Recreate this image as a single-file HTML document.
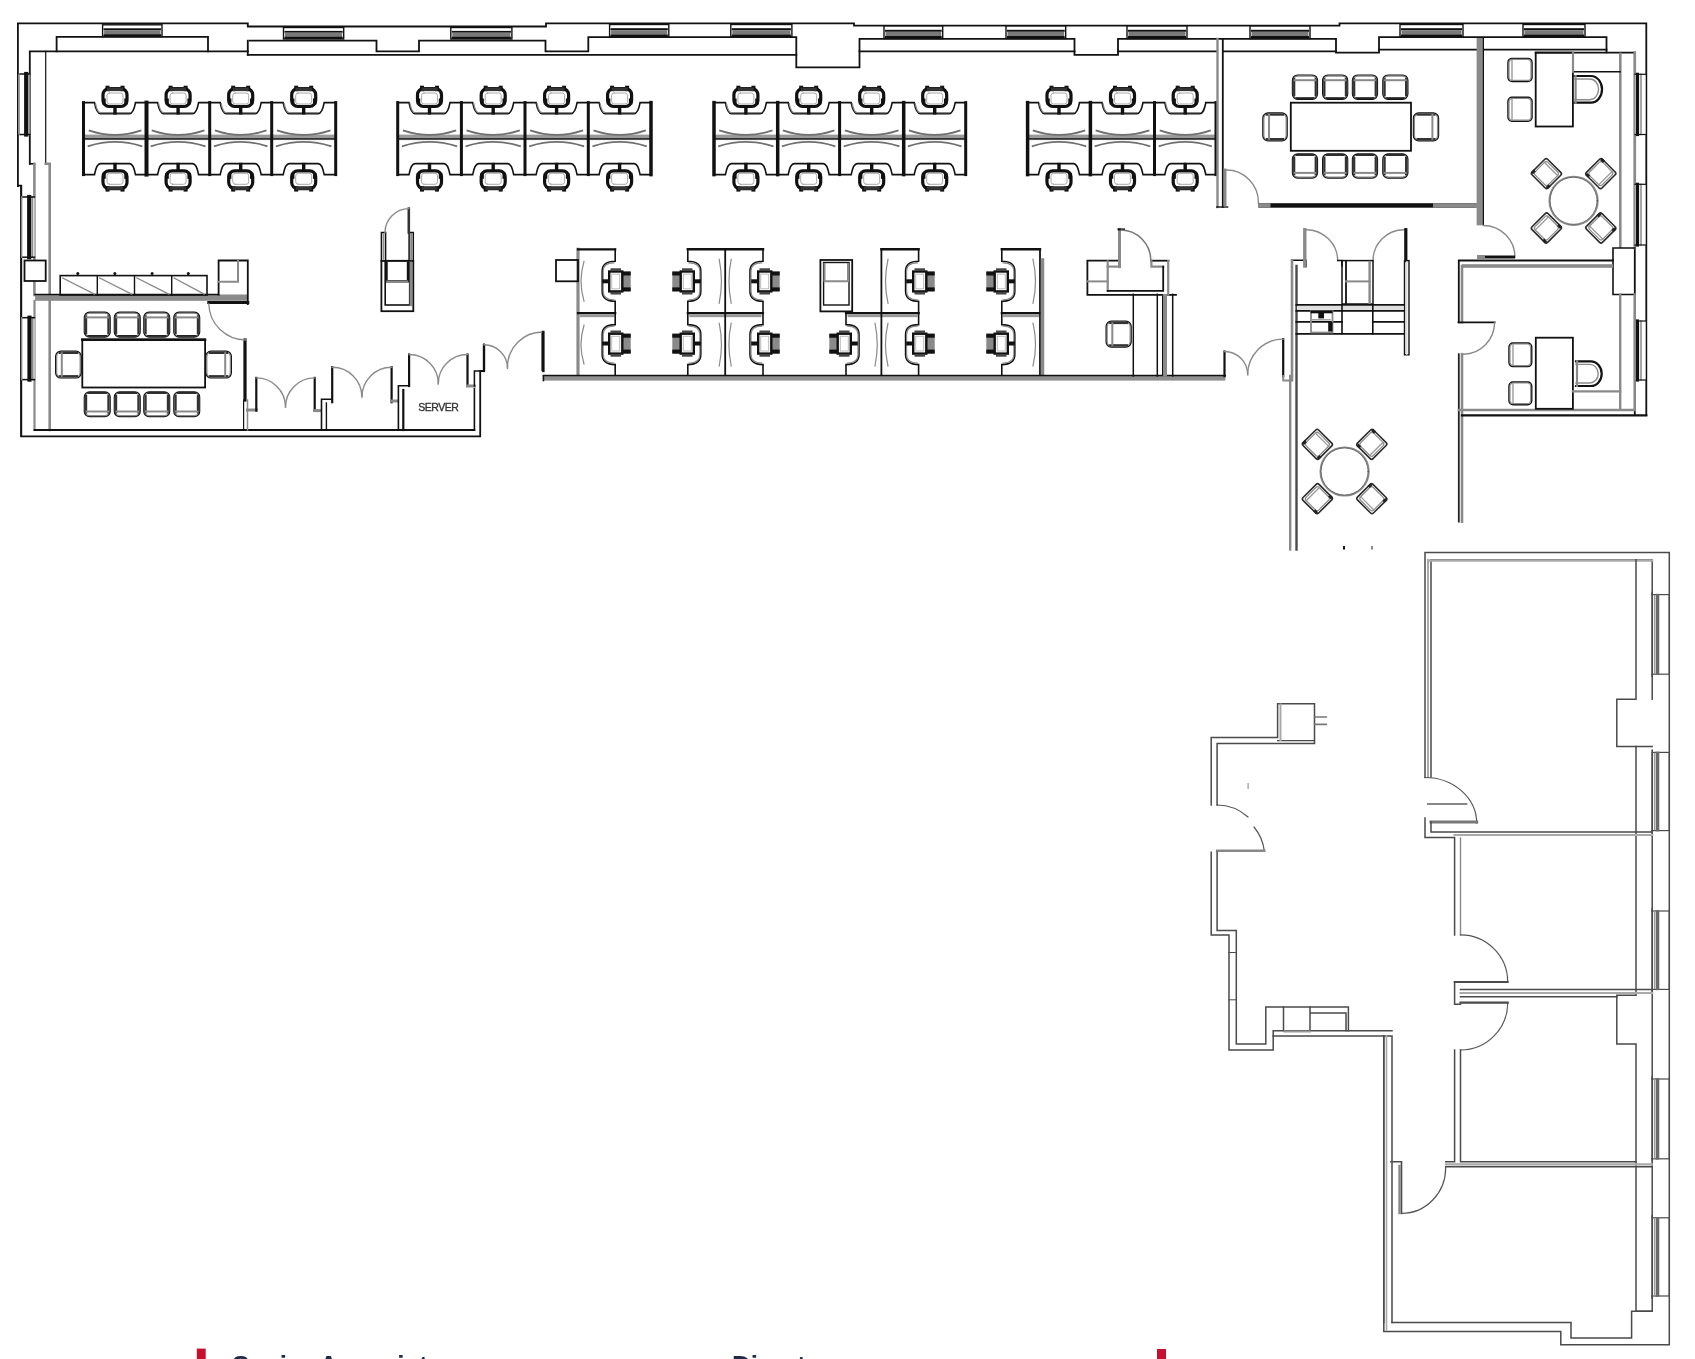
<!DOCTYPE html>
<html><head><meta charset="utf-8"><style>
html,body{margin:0;padding:0;background:#fff;width:1695px;height:1359px;overflow:hidden;}
svg{display:block;filter:blur(0.35px);}
.t{font-family:"Liberation Sans",sans-serif;}
</style></head><body>
<svg width="1695" height="1359" viewBox="0 0 1695 1359" stroke-linecap="square">
<path d="M17.9,186 V23.4 H247.8 V26.5 H546 V23.4 H854 V25.7 H1339.5 V23.4 H1646.3 V415" stroke="#111" stroke-width="1.8" fill="none" />
<path d="M17.9,185.7 H21.2 V436.3 H480.2 V371 H484" stroke="#111" stroke-width="1.8" fill="none" />
<rect x="102.6" y="24.8" width="59.4" height="11.7" fill="#ffffff"/>
<rect x="102.6" y="24.8" width="59.4" height="11.7" stroke="#111" stroke-width="1.4" fill="none" rx="0"/>
<rect x="103.6" y="28.3" width="57.4" height="1.9" fill="#111"/>
<rect x="104.1" y="30.2" width="56.4" height="4.2" fill="#7a7a7a"/>
<rect x="103.6" y="34.2" width="57.4" height="2.3" fill="#111"/>
<rect x="283.5" y="27.5" width="60.2" height="11.5" fill="#ffffff"/>
<rect x="283.5" y="27.5" width="60.2" height="11.5" stroke="#111" stroke-width="1.4" fill="none" rx="0"/>
<rect x="284.5" y="30.9" width="58.2" height="1.8" fill="#111"/>
<rect x="285.0" y="32.8" width="57.2" height="4.1" fill="#7a7a7a"/>
<rect x="284.5" y="36.7" width="58.2" height="2.3" fill="#111"/>
<rect x="450.8" y="27.5" width="61.1" height="11.5" fill="#ffffff"/>
<rect x="450.8" y="27.5" width="61.1" height="11.5" stroke="#111" stroke-width="1.4" fill="none" rx="0"/>
<rect x="451.8" y="30.9" width="59.1" height="1.8" fill="#111"/>
<rect x="452.3" y="32.8" width="58.1" height="4.1" fill="#7a7a7a"/>
<rect x="451.8" y="36.7" width="59.1" height="2.3" fill="#111"/>
<rect x="609.6" y="24.5" width="59.2" height="12.5" fill="#ffffff"/>
<rect x="609.6" y="24.5" width="59.2" height="12.5" stroke="#111" stroke-width="1.4" fill="none" rx="0"/>
<rect x="610.6" y="28.2" width="57.2" height="2.0" fill="#111"/>
<rect x="611.1" y="30.2" width="56.2" height="4.5" fill="#7a7a7a"/>
<rect x="610.6" y="34.5" width="57.2" height="2.5" fill="#111"/>
<rect x="730.8" y="24.5" width="61.1" height="12.5" fill="#ffffff"/>
<rect x="730.8" y="24.5" width="61.1" height="12.5" stroke="#111" stroke-width="1.4" fill="none" rx="0"/>
<rect x="731.8" y="28.2" width="59.1" height="2.0" fill="#111"/>
<rect x="732.3" y="30.2" width="58.1" height="4.5" fill="#7a7a7a"/>
<rect x="731.8" y="34.5" width="59.1" height="2.5" fill="#111"/>
<rect x="884.0" y="26.0" width="58.7" height="12.5" fill="#ffffff"/>
<rect x="884.0" y="26.0" width="58.7" height="12.5" stroke="#111" stroke-width="1.4" fill="none" rx="0"/>
<rect x="885.0" y="29.8" width="56.7" height="2.0" fill="#111"/>
<rect x="885.5" y="31.8" width="55.7" height="4.5" fill="#7a7a7a"/>
<rect x="885.0" y="36.0" width="56.7" height="2.5" fill="#111"/>
<rect x="1006.0" y="26.0" width="59.7" height="12.5" fill="#ffffff"/>
<rect x="1006.0" y="26.0" width="59.7" height="12.5" stroke="#111" stroke-width="1.4" fill="none" rx="0"/>
<rect x="1007.0" y="29.8" width="57.7" height="2.0" fill="#111"/>
<rect x="1007.5" y="31.8" width="56.7" height="4.5" fill="#7a7a7a"/>
<rect x="1007.0" y="36.0" width="57.7" height="2.5" fill="#111"/>
<rect x="1127.0" y="26.0" width="60.0" height="12.5" fill="#ffffff"/>
<rect x="1127.0" y="26.0" width="60.0" height="12.5" stroke="#111" stroke-width="1.4" fill="none" rx="0"/>
<rect x="1128.0" y="29.8" width="58.0" height="2.0" fill="#111"/>
<rect x="1128.5" y="31.8" width="57.0" height="4.5" fill="#7a7a7a"/>
<rect x="1128.0" y="36.0" width="58.0" height="2.5" fill="#111"/>
<rect x="1250.0" y="26.0" width="60.0" height="12.5" fill="#ffffff"/>
<rect x="1250.0" y="26.0" width="60.0" height="12.5" stroke="#111" stroke-width="1.4" fill="none" rx="0"/>
<rect x="1251.0" y="29.8" width="58.0" height="2.0" fill="#111"/>
<rect x="1251.5" y="31.8" width="57.0" height="4.5" fill="#7a7a7a"/>
<rect x="1251.0" y="36.0" width="58.0" height="2.5" fill="#111"/>
<rect x="1400.0" y="24.5" width="63.0" height="12.5" fill="#ffffff"/>
<rect x="1400.0" y="24.5" width="63.0" height="12.5" stroke="#111" stroke-width="1.4" fill="none" rx="0"/>
<rect x="1401.0" y="28.2" width="61.0" height="2.0" fill="#111"/>
<rect x="1401.5" y="30.2" width="60.0" height="4.5" fill="#7a7a7a"/>
<rect x="1401.0" y="34.5" width="61.0" height="2.5" fill="#111"/>
<rect x="1523.0" y="24.5" width="62.0" height="12.5" fill="#ffffff"/>
<rect x="1523.0" y="24.5" width="62.0" height="12.5" stroke="#111" stroke-width="1.4" fill="none" rx="0"/>
<rect x="1524.0" y="28.2" width="60.0" height="2.0" fill="#111"/>
<rect x="1524.5" y="30.2" width="59.0" height="4.5" fill="#7a7a7a"/>
<rect x="1524.0" y="34.5" width="60.0" height="2.5" fill="#111"/>
<path d="M56.6,51.3 V36.8 H208 V51.3" stroke="#111" stroke-width="1.8" fill="none" />
<path d="M247.8,40.7 V54.9" stroke="#111" stroke-width="1.8" fill="none" />
<path d="M249.6,40.7 H376.5 V51.3 H419 V40.7 H545.5 V51.3 H588.3 V37.2 H796.3 V67.3 H859.5 V38.9 H1074.5 V54.9 H1118 V38.9 H1336 V52.6 H1379 V37.2 H1606.5 V52.4" stroke="#111" stroke-width="1.8" fill="none" />
<path d="M29.8,163.8 V51.3 H247.8" stroke="#111" stroke-width="1.8" fill="none" />
<path d="M45.7,163.8 V51.3" stroke="#111" stroke-width="1.2" fill="none" />
<path d="M247.8,54.9 H796.3" stroke="#111" stroke-width="1.8" fill="none" />
<path d="M859.5,51.3 H1074.5" stroke="#111" stroke-width="1.8" fill="none" />
<path d="M1118,51.3 H1217" stroke="#111" stroke-width="1.8" fill="none" />
<path d="M1223,51.3 H1336" stroke="#111" stroke-width="1.8" fill="none" />
<path d="M1379,49.6 H1476.4" stroke="#111" stroke-width="1.8" fill="none" />
<path d="M1483.5,49.6 H1606.5" stroke="#111" stroke-width="1.8" fill="none" />
<path d="M1535.7,52.6 H1634.8 V415" stroke="#111" stroke-width="1.8" fill="none" />
<path d="M29.8,163.8 H34.4" stroke="#111" stroke-width="1.6" fill="none" />
<line x1="34.4" y1="163.8" x2="34.4" y2="295.0" stroke="#8a8a8a" stroke-width="2.6"/>
<path d="M45.7,163.8 H49.7 V430" stroke="#8a8a8a" stroke-width="2.6" fill="none" />
<line x1="34.5" y1="301.0" x2="34.5" y2="430.0" stroke="#8a8a8a" stroke-width="2.2"/>
<line x1="21.2" y1="186.0" x2="21.2" y2="436.0" stroke="#111" stroke-width="1.8"/>
<rect x="18.6" y="74.0" width="11.2" height="60.5" fill="#fff"/>
<line x1="26.2" y1="74.0" x2="26.2" y2="134.5" stroke="#111" stroke-width="4.2"/>
<line x1="29.4" y1="74.0" x2="29.4" y2="134.5" stroke="#8a8a8a" stroke-width="1.8"/>
<line x1="18.6" y1="74.0" x2="29.8" y2="74.0" stroke="#111" stroke-width="1.5"/>
<line x1="18.6" y1="134.5" x2="29.8" y2="134.5" stroke="#111" stroke-width="1.5"/>
<line x1="19.1" y1="74.0" x2="19.1" y2="134.5" stroke="#8a8a8a" stroke-width="1.4"/>
<rect x="21.2" y="197.0" width="13.2" height="60.2" fill="#fff"/>
<line x1="29.2" y1="197.0" x2="29.2" y2="257.2" stroke="#111" stroke-width="4.2"/>
<line x1="32.4" y1="197.0" x2="32.4" y2="257.2" stroke="#8a8a8a" stroke-width="1.8"/>
<line x1="21.2" y1="197.0" x2="34.4" y2="197.0" stroke="#111" stroke-width="1.5"/>
<line x1="21.2" y1="257.2" x2="34.4" y2="257.2" stroke="#111" stroke-width="1.5"/>
<line x1="21.7" y1="197.0" x2="21.7" y2="257.2" stroke="#8a8a8a" stroke-width="1.4"/>
<rect x="21.2" y="317.7" width="13.3" height="61.9" fill="#fff"/>
<line x1="29.5" y1="317.7" x2="29.5" y2="379.6" stroke="#111" stroke-width="4.2"/>
<line x1="32.7" y1="317.7" x2="32.7" y2="379.6" stroke="#8a8a8a" stroke-width="1.8"/>
<line x1="21.2" y1="317.7" x2="34.5" y2="317.7" stroke="#111" stroke-width="1.5"/>
<line x1="21.2" y1="379.6" x2="34.5" y2="379.6" stroke="#111" stroke-width="1.5"/>
<line x1="21.7" y1="317.7" x2="21.7" y2="379.6" stroke="#8a8a8a" stroke-width="1.4"/>
<rect x="24.5" y="260.5" width="21.2" height="20.5" stroke="#111" stroke-width="1.8" fill="#fff" rx="0"/>
<rect x="35.1" y="294.5" width="212.7" height="6.3" fill="#8a8a8a"/>
<line x1="35.1" y1="294.5" x2="218.6" y2="294.5" stroke="#111" stroke-width="1.6"/>
<line x1="208.8" y1="302.5" x2="247.8" y2="302.5" stroke="#111" stroke-width="3"/>
<path d="M218.6,294.5 V260.5 H247.8 V304" stroke="#111" stroke-width="1.8" fill="none" />
<path d="M218.6,281.8 H238 V260.5" stroke="#8a8a8a" stroke-width="2" fill="none" />
<line x1="34.5" y1="430.0" x2="474.4" y2="430.0" stroke="#111" stroke-width="1.8"/>
<line x1="245.0" y1="340.0" x2="245.0" y2="400.0" stroke="#111" stroke-width="3.2"/>
<line x1="247.5" y1="400.0" x2="247.5" y2="430.0" stroke="#8a8a8a" stroke-width="1.5"/>
<line x1="243.6" y1="400.0" x2="243.6" y2="430.0" stroke="#111" stroke-width="1.2"/>
<path d="M83.5,102.6 H94.5 C96.0,110.6 97.5,113.6 100.5,113.6 H129.5 C132.5,113.6 134.0,110.6 135.5,102.6 H146.5" stroke="#111" stroke-width="1.6" fill="none" />
<path d="M95.5,103.6 C97.0,110.6 98.5,112.6 100.5,112.6 H129.5" stroke="#8a8a8a" stroke-width="1.2" fill="none" />
<path d="M83.5,174.6 H94.5 C96.0,166.6 97.5,163.6 100.5,163.6 H129.5 C132.5,163.6 134.0,166.6 135.5,174.6 H146.5" stroke="#111" stroke-width="1.6" fill="none" />
<rect x="83.5" y="134.6" width="63.0" height="5.5" fill="#9a9a9a"/>
<line x1="83.5" y1="138.8" x2="146.5" y2="138.8" stroke="#111" stroke-width="1.2"/>
<path d="M89.5,130.6 Q115.0,139.1 140.5,130.6" stroke="#6f6f6f" stroke-width="1.7" fill="none" />
<path d="M88.5,146.1 Q115.0,137.6 141.5,146.1" stroke="#6f6f6f" stroke-width="1.7" fill="none" />
<g transform="translate(115.0,97.5) scale(1,1)">
<rect x="-12" y="-8.8" width="24" height="17.8" rx="6" fill="#fff" stroke="#111" stroke-width="3.2"/>
<rect x="-8" y="-4.5" width="16" height="11" rx="2.5" fill="none" stroke="#aaa" stroke-width="1"/>
<rect x="-9.5" y="-11.8" width="4" height="5.5" fill="#111"/>
<rect x="5.5" y="-11.8" width="4" height="5.5" fill="#111"/>
<rect x="-8" y="-10" width="16" height="3.6" fill="#333"/>
<rect x="-12.8" y="1" width="3.5" height="6" fill="#111"/>
<rect x="9.3" y="1" width="3.5" height="6" fill="#111"/>
<rect x="-1.7" y="9" width="3.4" height="8" fill="#111"/>
</g>
<g transform="translate(115.0,179.8) scale(1,-1)">
<rect x="-12" y="-8.8" width="24" height="17.8" rx="6" fill="#fff" stroke="#111" stroke-width="3.2"/>
<rect x="-8" y="-4.5" width="16" height="11" rx="2.5" fill="none" stroke="#aaa" stroke-width="1"/>
<rect x="-9.5" y="-11.8" width="4" height="5.5" fill="#111"/>
<rect x="5.5" y="-11.8" width="4" height="5.5" fill="#111"/>
<rect x="-8" y="-10" width="16" height="3.6" fill="#333"/>
<rect x="-12.8" y="1" width="3.5" height="6" fill="#111"/>
<rect x="9.3" y="1" width="3.5" height="6" fill="#111"/>
<rect x="-1.7" y="9" width="3.4" height="8" fill="#111"/>
</g>
<path d="M146.5,102.6 H157.6 C159.1,110.6 160.6,113.6 163.6,113.6 H192.6 C195.6,113.6 197.1,110.6 198.6,102.6 H209.7" stroke="#111" stroke-width="1.6" fill="none" />
<path d="M158.6,103.6 C160.1,110.6 161.6,112.6 163.6,112.6 H192.6" stroke="#8a8a8a" stroke-width="1.2" fill="none" />
<path d="M146.5,174.6 H157.6 C159.1,166.6 160.6,163.6 163.6,163.6 H192.6 C195.6,163.6 197.1,166.6 198.6,174.6 H209.7" stroke="#111" stroke-width="1.6" fill="none" />
<rect x="146.5" y="134.6" width="63.2" height="5.5" fill="#9a9a9a"/>
<line x1="146.5" y1="138.8" x2="209.7" y2="138.8" stroke="#111" stroke-width="1.2"/>
<path d="M152.5,130.6 Q178.1,139.1 203.7,130.6" stroke="#6f6f6f" stroke-width="1.7" fill="none" />
<path d="M151.5,146.1 Q178.1,137.6 204.7,146.1" stroke="#6f6f6f" stroke-width="1.7" fill="none" />
<g transform="translate(178.1,97.5) scale(1,1)">
<rect x="-12" y="-8.8" width="24" height="17.8" rx="6" fill="#fff" stroke="#111" stroke-width="3.2"/>
<rect x="-8" y="-4.5" width="16" height="11" rx="2.5" fill="none" stroke="#aaa" stroke-width="1"/>
<rect x="-9.5" y="-11.8" width="4" height="5.5" fill="#111"/>
<rect x="5.5" y="-11.8" width="4" height="5.5" fill="#111"/>
<rect x="-8" y="-10" width="16" height="3.6" fill="#333"/>
<rect x="-12.8" y="1" width="3.5" height="6" fill="#111"/>
<rect x="9.3" y="1" width="3.5" height="6" fill="#111"/>
<rect x="-1.7" y="9" width="3.4" height="8" fill="#111"/>
</g>
<g transform="translate(178.1,179.8) scale(1,-1)">
<rect x="-12" y="-8.8" width="24" height="17.8" rx="6" fill="#fff" stroke="#111" stroke-width="3.2"/>
<rect x="-8" y="-4.5" width="16" height="11" rx="2.5" fill="none" stroke="#aaa" stroke-width="1"/>
<rect x="-9.5" y="-11.8" width="4" height="5.5" fill="#111"/>
<rect x="5.5" y="-11.8" width="4" height="5.5" fill="#111"/>
<rect x="-8" y="-10" width="16" height="3.6" fill="#333"/>
<rect x="-12.8" y="1" width="3.5" height="6" fill="#111"/>
<rect x="9.3" y="1" width="3.5" height="6" fill="#111"/>
<rect x="-1.7" y="9" width="3.4" height="8" fill="#111"/>
</g>
<path d="M209.7,102.6 H220.2 C221.7,110.6 223.2,113.6 226.2,113.6 H255.2 C258.2,113.6 259.7,110.6 261.2,102.6 H271.7" stroke="#111" stroke-width="1.6" fill="none" />
<path d="M221.2,103.6 C222.7,110.6 224.2,112.6 226.2,112.6 H255.2" stroke="#8a8a8a" stroke-width="1.2" fill="none" />
<path d="M209.7,174.6 H220.2 C221.7,166.6 223.2,163.6 226.2,163.6 H255.2 C258.2,163.6 259.7,166.6 261.2,174.6 H271.7" stroke="#111" stroke-width="1.6" fill="none" />
<rect x="209.7" y="134.6" width="62.0" height="5.5" fill="#9a9a9a"/>
<line x1="209.7" y1="138.8" x2="271.7" y2="138.8" stroke="#111" stroke-width="1.2"/>
<path d="M215.7,130.6 Q240.7,139.1 265.7,130.6" stroke="#6f6f6f" stroke-width="1.7" fill="none" />
<path d="M214.7,146.1 Q240.7,137.6 266.7,146.1" stroke="#6f6f6f" stroke-width="1.7" fill="none" />
<g transform="translate(240.7,97.5) scale(1,1)">
<rect x="-12" y="-8.8" width="24" height="17.8" rx="6" fill="#fff" stroke="#111" stroke-width="3.2"/>
<rect x="-8" y="-4.5" width="16" height="11" rx="2.5" fill="none" stroke="#aaa" stroke-width="1"/>
<rect x="-9.5" y="-11.8" width="4" height="5.5" fill="#111"/>
<rect x="5.5" y="-11.8" width="4" height="5.5" fill="#111"/>
<rect x="-8" y="-10" width="16" height="3.6" fill="#333"/>
<rect x="-12.8" y="1" width="3.5" height="6" fill="#111"/>
<rect x="9.3" y="1" width="3.5" height="6" fill="#111"/>
<rect x="-1.7" y="9" width="3.4" height="8" fill="#111"/>
</g>
<g transform="translate(240.7,179.8) scale(1,-1)">
<rect x="-12" y="-8.8" width="24" height="17.8" rx="6" fill="#fff" stroke="#111" stroke-width="3.2"/>
<rect x="-8" y="-4.5" width="16" height="11" rx="2.5" fill="none" stroke="#aaa" stroke-width="1"/>
<rect x="-9.5" y="-11.8" width="4" height="5.5" fill="#111"/>
<rect x="5.5" y="-11.8" width="4" height="5.5" fill="#111"/>
<rect x="-8" y="-10" width="16" height="3.6" fill="#333"/>
<rect x="-12.8" y="1" width="3.5" height="6" fill="#111"/>
<rect x="9.3" y="1" width="3.5" height="6" fill="#111"/>
<rect x="-1.7" y="9" width="3.4" height="8" fill="#111"/>
</g>
<path d="M271.7,102.6 H283.2 C284.7,110.6 286.2,113.6 289.2,113.6 H318.2 C321.2,113.6 322.7,110.6 324.2,102.6 H335.7" stroke="#111" stroke-width="1.6" fill="none" />
<path d="M284.2,103.6 C285.7,110.6 287.2,112.6 289.2,112.6 H318.2" stroke="#8a8a8a" stroke-width="1.2" fill="none" />
<path d="M271.7,174.6 H283.2 C284.7,166.6 286.2,163.6 289.2,163.6 H318.2 C321.2,163.6 322.7,166.6 324.2,174.6 H335.7" stroke="#111" stroke-width="1.6" fill="none" />
<rect x="271.7" y="134.6" width="64.0" height="5.5" fill="#9a9a9a"/>
<line x1="271.7" y1="138.8" x2="335.7" y2="138.8" stroke="#111" stroke-width="1.2"/>
<path d="M277.7,130.6 Q303.7,139.1 329.7,130.6" stroke="#6f6f6f" stroke-width="1.7" fill="none" />
<path d="M276.7,146.1 Q303.7,137.6 330.7,146.1" stroke="#6f6f6f" stroke-width="1.7" fill="none" />
<g transform="translate(303.7,97.5) scale(1,1)">
<rect x="-12" y="-8.8" width="24" height="17.8" rx="6" fill="#fff" stroke="#111" stroke-width="3.2"/>
<rect x="-8" y="-4.5" width="16" height="11" rx="2.5" fill="none" stroke="#aaa" stroke-width="1"/>
<rect x="-9.5" y="-11.8" width="4" height="5.5" fill="#111"/>
<rect x="5.5" y="-11.8" width="4" height="5.5" fill="#111"/>
<rect x="-8" y="-10" width="16" height="3.6" fill="#333"/>
<rect x="-12.8" y="1" width="3.5" height="6" fill="#111"/>
<rect x="9.3" y="1" width="3.5" height="6" fill="#111"/>
<rect x="-1.7" y="9" width="3.4" height="8" fill="#111"/>
</g>
<g transform="translate(303.7,179.8) scale(1,-1)">
<rect x="-12" y="-8.8" width="24" height="17.8" rx="6" fill="#fff" stroke="#111" stroke-width="3.2"/>
<rect x="-8" y="-4.5" width="16" height="11" rx="2.5" fill="none" stroke="#aaa" stroke-width="1"/>
<rect x="-9.5" y="-11.8" width="4" height="5.5" fill="#111"/>
<rect x="5.5" y="-11.8" width="4" height="5.5" fill="#111"/>
<rect x="-8" y="-10" width="16" height="3.6" fill="#333"/>
<rect x="-12.8" y="1" width="3.5" height="6" fill="#111"/>
<rect x="9.3" y="1" width="3.5" height="6" fill="#111"/>
<rect x="-1.7" y="9" width="3.4" height="8" fill="#111"/>
</g>
<line x1="83.5" y1="102.6" x2="83.5" y2="174.6" stroke="#111" stroke-width="3"/>
<line x1="146.5" y1="102.6" x2="146.5" y2="174.6" stroke="#111" stroke-width="4"/>
<line x1="209.7" y1="102.6" x2="209.7" y2="174.6" stroke="#111" stroke-width="3"/>
<line x1="271.7" y1="102.6" x2="271.7" y2="174.6" stroke="#111" stroke-width="3"/>
<line x1="335.7" y1="102.6" x2="335.7" y2="174.6" stroke="#111" stroke-width="3"/>
<path d="M397.7,102.6 H409.0 C410.5,110.6 412.0,113.6 415.0,113.6 H444.0 C447.0,113.6 448.5,110.6 450.0,102.6 H461.4" stroke="#111" stroke-width="1.6" fill="none" />
<path d="M410.0,103.6 C411.5,110.6 413.0,112.6 415.0,112.6 H444.0" stroke="#8a8a8a" stroke-width="1.2" fill="none" />
<path d="M397.7,174.6 H409.0 C410.5,166.6 412.0,163.6 415.0,163.6 H444.0 C447.0,163.6 448.5,166.6 450.0,174.6 H461.4" stroke="#111" stroke-width="1.6" fill="none" />
<rect x="397.7" y="134.6" width="63.7" height="5.5" fill="#9a9a9a"/>
<line x1="397.7" y1="138.8" x2="461.4" y2="138.8" stroke="#111" stroke-width="1.2"/>
<path d="M403.7,130.6 Q429.5,139.1 455.4,130.6" stroke="#6f6f6f" stroke-width="1.7" fill="none" />
<path d="M402.7,146.1 Q429.5,137.6 456.4,146.1" stroke="#6f6f6f" stroke-width="1.7" fill="none" />
<g transform="translate(429.5,97.5) scale(1,1)">
<rect x="-12" y="-8.8" width="24" height="17.8" rx="6" fill="#fff" stroke="#111" stroke-width="3.2"/>
<rect x="-8" y="-4.5" width="16" height="11" rx="2.5" fill="none" stroke="#aaa" stroke-width="1"/>
<rect x="-9.5" y="-11.8" width="4" height="5.5" fill="#111"/>
<rect x="5.5" y="-11.8" width="4" height="5.5" fill="#111"/>
<rect x="-8" y="-10" width="16" height="3.6" fill="#333"/>
<rect x="-12.8" y="1" width="3.5" height="6" fill="#111"/>
<rect x="9.3" y="1" width="3.5" height="6" fill="#111"/>
<rect x="-1.7" y="9" width="3.4" height="8" fill="#111"/>
</g>
<g transform="translate(429.5,179.8) scale(1,-1)">
<rect x="-12" y="-8.8" width="24" height="17.8" rx="6" fill="#fff" stroke="#111" stroke-width="3.2"/>
<rect x="-8" y="-4.5" width="16" height="11" rx="2.5" fill="none" stroke="#aaa" stroke-width="1"/>
<rect x="-9.5" y="-11.8" width="4" height="5.5" fill="#111"/>
<rect x="5.5" y="-11.8" width="4" height="5.5" fill="#111"/>
<rect x="-8" y="-10" width="16" height="3.6" fill="#333"/>
<rect x="-12.8" y="1" width="3.5" height="6" fill="#111"/>
<rect x="9.3" y="1" width="3.5" height="6" fill="#111"/>
<rect x="-1.7" y="9" width="3.4" height="8" fill="#111"/>
</g>
<path d="M461.4,102.6 H472.7 C474.2,110.6 475.7,113.6 478.7,113.6 H507.7 C510.7,113.6 512.2,110.6 513.7,102.6 H525.0" stroke="#111" stroke-width="1.6" fill="none" />
<path d="M473.7,103.6 C475.2,110.6 476.7,112.6 478.7,112.6 H507.7" stroke="#8a8a8a" stroke-width="1.2" fill="none" />
<path d="M461.4,174.6 H472.7 C474.2,166.6 475.7,163.6 478.7,163.6 H507.7 C510.7,163.6 512.2,166.6 513.7,174.6 H525.0" stroke="#111" stroke-width="1.6" fill="none" />
<rect x="461.4" y="134.6" width="63.6" height="5.5" fill="#9a9a9a"/>
<line x1="461.4" y1="138.8" x2="525.0" y2="138.8" stroke="#111" stroke-width="1.2"/>
<path d="M467.4,130.6 Q493.2,139.1 519.0,130.6" stroke="#6f6f6f" stroke-width="1.7" fill="none" />
<path d="M466.4,146.1 Q493.2,137.6 520.0,146.1" stroke="#6f6f6f" stroke-width="1.7" fill="none" />
<g transform="translate(493.2,97.5) scale(1,1)">
<rect x="-12" y="-8.8" width="24" height="17.8" rx="6" fill="#fff" stroke="#111" stroke-width="3.2"/>
<rect x="-8" y="-4.5" width="16" height="11" rx="2.5" fill="none" stroke="#aaa" stroke-width="1"/>
<rect x="-9.5" y="-11.8" width="4" height="5.5" fill="#111"/>
<rect x="5.5" y="-11.8" width="4" height="5.5" fill="#111"/>
<rect x="-8" y="-10" width="16" height="3.6" fill="#333"/>
<rect x="-12.8" y="1" width="3.5" height="6" fill="#111"/>
<rect x="9.3" y="1" width="3.5" height="6" fill="#111"/>
<rect x="-1.7" y="9" width="3.4" height="8" fill="#111"/>
</g>
<g transform="translate(493.2,179.8) scale(1,-1)">
<rect x="-12" y="-8.8" width="24" height="17.8" rx="6" fill="#fff" stroke="#111" stroke-width="3.2"/>
<rect x="-8" y="-4.5" width="16" height="11" rx="2.5" fill="none" stroke="#aaa" stroke-width="1"/>
<rect x="-9.5" y="-11.8" width="4" height="5.5" fill="#111"/>
<rect x="5.5" y="-11.8" width="4" height="5.5" fill="#111"/>
<rect x="-8" y="-10" width="16" height="3.6" fill="#333"/>
<rect x="-12.8" y="1" width="3.5" height="6" fill="#111"/>
<rect x="9.3" y="1" width="3.5" height="6" fill="#111"/>
<rect x="-1.7" y="9" width="3.4" height="8" fill="#111"/>
</g>
<path d="M525.0,102.6 H536.1 C537.6,110.6 539.1,113.6 542.1,113.6 H571.1 C574.1,113.6 575.6,110.6 577.1,102.6 H588.3" stroke="#111" stroke-width="1.6" fill="none" />
<path d="M537.1,103.6 C538.6,110.6 540.1,112.6 542.1,112.6 H571.1" stroke="#8a8a8a" stroke-width="1.2" fill="none" />
<path d="M525.0,174.6 H536.1 C537.6,166.6 539.1,163.6 542.1,163.6 H571.1 C574.1,163.6 575.6,166.6 577.1,174.6 H588.3" stroke="#111" stroke-width="1.6" fill="none" />
<rect x="525.0" y="134.6" width="63.3" height="5.5" fill="#9a9a9a"/>
<line x1="525.0" y1="138.8" x2="588.3" y2="138.8" stroke="#111" stroke-width="1.2"/>
<path d="M531.0,130.6 Q556.6,139.1 582.3,130.6" stroke="#6f6f6f" stroke-width="1.7" fill="none" />
<path d="M530.0,146.1 Q556.6,137.6 583.3,146.1" stroke="#6f6f6f" stroke-width="1.7" fill="none" />
<g transform="translate(556.6,97.5) scale(1,1)">
<rect x="-12" y="-8.8" width="24" height="17.8" rx="6" fill="#fff" stroke="#111" stroke-width="3.2"/>
<rect x="-8" y="-4.5" width="16" height="11" rx="2.5" fill="none" stroke="#aaa" stroke-width="1"/>
<rect x="-9.5" y="-11.8" width="4" height="5.5" fill="#111"/>
<rect x="5.5" y="-11.8" width="4" height="5.5" fill="#111"/>
<rect x="-8" y="-10" width="16" height="3.6" fill="#333"/>
<rect x="-12.8" y="1" width="3.5" height="6" fill="#111"/>
<rect x="9.3" y="1" width="3.5" height="6" fill="#111"/>
<rect x="-1.7" y="9" width="3.4" height="8" fill="#111"/>
</g>
<g transform="translate(556.6,179.8) scale(1,-1)">
<rect x="-12" y="-8.8" width="24" height="17.8" rx="6" fill="#fff" stroke="#111" stroke-width="3.2"/>
<rect x="-8" y="-4.5" width="16" height="11" rx="2.5" fill="none" stroke="#aaa" stroke-width="1"/>
<rect x="-9.5" y="-11.8" width="4" height="5.5" fill="#111"/>
<rect x="5.5" y="-11.8" width="4" height="5.5" fill="#111"/>
<rect x="-8" y="-10" width="16" height="3.6" fill="#333"/>
<rect x="-12.8" y="1" width="3.5" height="6" fill="#111"/>
<rect x="9.3" y="1" width="3.5" height="6" fill="#111"/>
<rect x="-1.7" y="9" width="3.4" height="8" fill="#111"/>
</g>
<path d="M588.3,102.6 H599.1 C600.6,110.6 602.1,113.6 605.1,113.6 H634.1 C637.1,113.6 638.6,110.6 640.1,102.6 H651.0" stroke="#111" stroke-width="1.6" fill="none" />
<path d="M600.1,103.6 C601.6,110.6 603.1,112.6 605.1,112.6 H634.1" stroke="#8a8a8a" stroke-width="1.2" fill="none" />
<path d="M588.3,174.6 H599.1 C600.6,166.6 602.1,163.6 605.1,163.6 H634.1 C637.1,163.6 638.6,166.6 640.1,174.6 H651.0" stroke="#111" stroke-width="1.6" fill="none" />
<rect x="588.3" y="134.6" width="62.7" height="5.5" fill="#9a9a9a"/>
<line x1="588.3" y1="138.8" x2="651.0" y2="138.8" stroke="#111" stroke-width="1.2"/>
<path d="M594.3,130.6 Q619.6,139.1 645.0,130.6" stroke="#6f6f6f" stroke-width="1.7" fill="none" />
<path d="M593.3,146.1 Q619.6,137.6 646.0,146.1" stroke="#6f6f6f" stroke-width="1.7" fill="none" />
<g transform="translate(619.6,97.5) scale(1,1)">
<rect x="-12" y="-8.8" width="24" height="17.8" rx="6" fill="#fff" stroke="#111" stroke-width="3.2"/>
<rect x="-8" y="-4.5" width="16" height="11" rx="2.5" fill="none" stroke="#aaa" stroke-width="1"/>
<rect x="-9.5" y="-11.8" width="4" height="5.5" fill="#111"/>
<rect x="5.5" y="-11.8" width="4" height="5.5" fill="#111"/>
<rect x="-8" y="-10" width="16" height="3.6" fill="#333"/>
<rect x="-12.8" y="1" width="3.5" height="6" fill="#111"/>
<rect x="9.3" y="1" width="3.5" height="6" fill="#111"/>
<rect x="-1.7" y="9" width="3.4" height="8" fill="#111"/>
</g>
<g transform="translate(619.6,179.8) scale(1,-1)">
<rect x="-12" y="-8.8" width="24" height="17.8" rx="6" fill="#fff" stroke="#111" stroke-width="3.2"/>
<rect x="-8" y="-4.5" width="16" height="11" rx="2.5" fill="none" stroke="#aaa" stroke-width="1"/>
<rect x="-9.5" y="-11.8" width="4" height="5.5" fill="#111"/>
<rect x="5.5" y="-11.8" width="4" height="5.5" fill="#111"/>
<rect x="-8" y="-10" width="16" height="3.6" fill="#333"/>
<rect x="-12.8" y="1" width="3.5" height="6" fill="#111"/>
<rect x="9.3" y="1" width="3.5" height="6" fill="#111"/>
<rect x="-1.7" y="9" width="3.4" height="8" fill="#111"/>
</g>
<line x1="397.7" y1="102.6" x2="397.7" y2="174.6" stroke="#111" stroke-width="3"/>
<line x1="461.4" y1="102.6" x2="461.4" y2="174.6" stroke="#111" stroke-width="3"/>
<line x1="525.0" y1="102.6" x2="525.0" y2="174.6" stroke="#111" stroke-width="3"/>
<line x1="588.3" y1="102.6" x2="588.3" y2="174.6" stroke="#111" stroke-width="3"/>
<line x1="651.0" y1="102.6" x2="651.0" y2="174.6" stroke="#111" stroke-width="3.5"/>
<path d="M714.0,102.6 H725.4 C726.9,110.6 728.4,113.6 731.4,113.6 H760.4 C763.4,113.6 764.9,110.6 766.4,102.6 H777.7" stroke="#111" stroke-width="1.6" fill="none" />
<path d="M726.4,103.6 C727.9,110.6 729.4,112.6 731.4,112.6 H760.4" stroke="#8a8a8a" stroke-width="1.2" fill="none" />
<path d="M714.0,174.6 H725.4 C726.9,166.6 728.4,163.6 731.4,163.6 H760.4 C763.4,163.6 764.9,166.6 766.4,174.6 H777.7" stroke="#111" stroke-width="1.6" fill="none" />
<rect x="714.0" y="134.6" width="63.7" height="5.5" fill="#9a9a9a"/>
<line x1="714.0" y1="138.8" x2="777.7" y2="138.8" stroke="#111" stroke-width="1.2"/>
<path d="M720.0,130.6 Q745.9,139.1 771.7,130.6" stroke="#6f6f6f" stroke-width="1.7" fill="none" />
<path d="M719.0,146.1 Q745.9,137.6 772.7,146.1" stroke="#6f6f6f" stroke-width="1.7" fill="none" />
<g transform="translate(745.9,97.5) scale(1,1)">
<rect x="-12" y="-8.8" width="24" height="17.8" rx="6" fill="#fff" stroke="#111" stroke-width="3.2"/>
<rect x="-8" y="-4.5" width="16" height="11" rx="2.5" fill="none" stroke="#aaa" stroke-width="1"/>
<rect x="-9.5" y="-11.8" width="4" height="5.5" fill="#111"/>
<rect x="5.5" y="-11.8" width="4" height="5.5" fill="#111"/>
<rect x="-8" y="-10" width="16" height="3.6" fill="#333"/>
<rect x="-12.8" y="1" width="3.5" height="6" fill="#111"/>
<rect x="9.3" y="1" width="3.5" height="6" fill="#111"/>
<rect x="-1.7" y="9" width="3.4" height="8" fill="#111"/>
</g>
<g transform="translate(745.9,179.8) scale(1,-1)">
<rect x="-12" y="-8.8" width="24" height="17.8" rx="6" fill="#fff" stroke="#111" stroke-width="3.2"/>
<rect x="-8" y="-4.5" width="16" height="11" rx="2.5" fill="none" stroke="#aaa" stroke-width="1"/>
<rect x="-9.5" y="-11.8" width="4" height="5.5" fill="#111"/>
<rect x="5.5" y="-11.8" width="4" height="5.5" fill="#111"/>
<rect x="-8" y="-10" width="16" height="3.6" fill="#333"/>
<rect x="-12.8" y="1" width="3.5" height="6" fill="#111"/>
<rect x="9.3" y="1" width="3.5" height="6" fill="#111"/>
<rect x="-1.7" y="9" width="3.4" height="8" fill="#111"/>
</g>
<path d="M777.7,102.6 H788.2 C789.7,110.6 791.2,113.6 794.2,113.6 H823.2 C826.2,113.6 827.7,110.6 829.2,102.6 H839.6" stroke="#111" stroke-width="1.6" fill="none" />
<path d="M789.2,103.6 C790.7,110.6 792.2,112.6 794.2,112.6 H823.2" stroke="#8a8a8a" stroke-width="1.2" fill="none" />
<path d="M777.7,174.6 H788.2 C789.7,166.6 791.2,163.6 794.2,163.6 H823.2 C826.2,163.6 827.7,166.6 829.2,174.6 H839.6" stroke="#111" stroke-width="1.6" fill="none" />
<rect x="777.7" y="134.6" width="61.9" height="5.5" fill="#9a9a9a"/>
<line x1="777.7" y1="138.8" x2="839.6" y2="138.8" stroke="#111" stroke-width="1.2"/>
<path d="M783.7,130.6 Q808.7,139.1 833.6,130.6" stroke="#6f6f6f" stroke-width="1.7" fill="none" />
<path d="M782.7,146.1 Q808.7,137.6 834.6,146.1" stroke="#6f6f6f" stroke-width="1.7" fill="none" />
<g transform="translate(808.7,97.5) scale(1,1)">
<rect x="-12" y="-8.8" width="24" height="17.8" rx="6" fill="#fff" stroke="#111" stroke-width="3.2"/>
<rect x="-8" y="-4.5" width="16" height="11" rx="2.5" fill="none" stroke="#aaa" stroke-width="1"/>
<rect x="-9.5" y="-11.8" width="4" height="5.5" fill="#111"/>
<rect x="5.5" y="-11.8" width="4" height="5.5" fill="#111"/>
<rect x="-8" y="-10" width="16" height="3.6" fill="#333"/>
<rect x="-12.8" y="1" width="3.5" height="6" fill="#111"/>
<rect x="9.3" y="1" width="3.5" height="6" fill="#111"/>
<rect x="-1.7" y="9" width="3.4" height="8" fill="#111"/>
</g>
<g transform="translate(808.7,179.8) scale(1,-1)">
<rect x="-12" y="-8.8" width="24" height="17.8" rx="6" fill="#fff" stroke="#111" stroke-width="3.2"/>
<rect x="-8" y="-4.5" width="16" height="11" rx="2.5" fill="none" stroke="#aaa" stroke-width="1"/>
<rect x="-9.5" y="-11.8" width="4" height="5.5" fill="#111"/>
<rect x="5.5" y="-11.8" width="4" height="5.5" fill="#111"/>
<rect x="-8" y="-10" width="16" height="3.6" fill="#333"/>
<rect x="-12.8" y="1" width="3.5" height="6" fill="#111"/>
<rect x="9.3" y="1" width="3.5" height="6" fill="#111"/>
<rect x="-1.7" y="9" width="3.4" height="8" fill="#111"/>
</g>
<path d="M839.6,102.6 H851.2 C852.7,110.6 854.2,113.6 857.2,113.6 H886.2 C889.2,113.6 890.7,110.6 892.2,102.6 H903.7" stroke="#111" stroke-width="1.6" fill="none" />
<path d="M852.2,103.6 C853.7,110.6 855.2,112.6 857.2,112.6 H886.2" stroke="#8a8a8a" stroke-width="1.2" fill="none" />
<path d="M839.6,174.6 H851.2 C852.7,166.6 854.2,163.6 857.2,163.6 H886.2 C889.2,163.6 890.7,166.6 892.2,174.6 H903.7" stroke="#111" stroke-width="1.6" fill="none" />
<rect x="839.6" y="134.6" width="64.1" height="5.5" fill="#9a9a9a"/>
<line x1="839.6" y1="138.8" x2="903.7" y2="138.8" stroke="#111" stroke-width="1.2"/>
<path d="M845.6,130.6 Q871.7,139.1 897.7,130.6" stroke="#6f6f6f" stroke-width="1.7" fill="none" />
<path d="M844.6,146.1 Q871.7,137.6 898.7,146.1" stroke="#6f6f6f" stroke-width="1.7" fill="none" />
<g transform="translate(871.7,97.5) scale(1,1)">
<rect x="-12" y="-8.8" width="24" height="17.8" rx="6" fill="#fff" stroke="#111" stroke-width="3.2"/>
<rect x="-8" y="-4.5" width="16" height="11" rx="2.5" fill="none" stroke="#aaa" stroke-width="1"/>
<rect x="-9.5" y="-11.8" width="4" height="5.5" fill="#111"/>
<rect x="5.5" y="-11.8" width="4" height="5.5" fill="#111"/>
<rect x="-8" y="-10" width="16" height="3.6" fill="#333"/>
<rect x="-12.8" y="1" width="3.5" height="6" fill="#111"/>
<rect x="9.3" y="1" width="3.5" height="6" fill="#111"/>
<rect x="-1.7" y="9" width="3.4" height="8" fill="#111"/>
</g>
<g transform="translate(871.7,179.8) scale(1,-1)">
<rect x="-12" y="-8.8" width="24" height="17.8" rx="6" fill="#fff" stroke="#111" stroke-width="3.2"/>
<rect x="-8" y="-4.5" width="16" height="11" rx="2.5" fill="none" stroke="#aaa" stroke-width="1"/>
<rect x="-9.5" y="-11.8" width="4" height="5.5" fill="#111"/>
<rect x="5.5" y="-11.8" width="4" height="5.5" fill="#111"/>
<rect x="-8" y="-10" width="16" height="3.6" fill="#333"/>
<rect x="-12.8" y="1" width="3.5" height="6" fill="#111"/>
<rect x="9.3" y="1" width="3.5" height="6" fill="#111"/>
<rect x="-1.7" y="9" width="3.4" height="8" fill="#111"/>
</g>
<path d="M903.7,102.6 H914.2 C915.7,110.6 917.2,113.6 920.2,113.6 H949.2 C952.2,113.6 953.7,110.6 955.2,102.6 H965.7" stroke="#111" stroke-width="1.6" fill="none" />
<path d="M915.2,103.6 C916.7,110.6 918.2,112.6 920.2,112.6 H949.2" stroke="#8a8a8a" stroke-width="1.2" fill="none" />
<path d="M903.7,174.6 H914.2 C915.7,166.6 917.2,163.6 920.2,163.6 H949.2 C952.2,163.6 953.7,166.6 955.2,174.6 H965.7" stroke="#111" stroke-width="1.6" fill="none" />
<rect x="903.7" y="134.6" width="62.0" height="5.5" fill="#9a9a9a"/>
<line x1="903.7" y1="138.8" x2="965.7" y2="138.8" stroke="#111" stroke-width="1.2"/>
<path d="M909.7,130.6 Q934.7,139.1 959.7,130.6" stroke="#6f6f6f" stroke-width="1.7" fill="none" />
<path d="M908.7,146.1 Q934.7,137.6 960.7,146.1" stroke="#6f6f6f" stroke-width="1.7" fill="none" />
<g transform="translate(934.7,97.5) scale(1,1)">
<rect x="-12" y="-8.8" width="24" height="17.8" rx="6" fill="#fff" stroke="#111" stroke-width="3.2"/>
<rect x="-8" y="-4.5" width="16" height="11" rx="2.5" fill="none" stroke="#aaa" stroke-width="1"/>
<rect x="-9.5" y="-11.8" width="4" height="5.5" fill="#111"/>
<rect x="5.5" y="-11.8" width="4" height="5.5" fill="#111"/>
<rect x="-8" y="-10" width="16" height="3.6" fill="#333"/>
<rect x="-12.8" y="1" width="3.5" height="6" fill="#111"/>
<rect x="9.3" y="1" width="3.5" height="6" fill="#111"/>
<rect x="-1.7" y="9" width="3.4" height="8" fill="#111"/>
</g>
<g transform="translate(934.7,179.8) scale(1,-1)">
<rect x="-12" y="-8.8" width="24" height="17.8" rx="6" fill="#fff" stroke="#111" stroke-width="3.2"/>
<rect x="-8" y="-4.5" width="16" height="11" rx="2.5" fill="none" stroke="#aaa" stroke-width="1"/>
<rect x="-9.5" y="-11.8" width="4" height="5.5" fill="#111"/>
<rect x="5.5" y="-11.8" width="4" height="5.5" fill="#111"/>
<rect x="-8" y="-10" width="16" height="3.6" fill="#333"/>
<rect x="-12.8" y="1" width="3.5" height="6" fill="#111"/>
<rect x="9.3" y="1" width="3.5" height="6" fill="#111"/>
<rect x="-1.7" y="9" width="3.4" height="8" fill="#111"/>
</g>
<line x1="714.0" y1="102.6" x2="714.0" y2="174.6" stroke="#111" stroke-width="3.5"/>
<line x1="777.7" y1="102.6" x2="777.7" y2="174.6" stroke="#111" stroke-width="3.5"/>
<line x1="839.6" y1="102.6" x2="839.6" y2="174.6" stroke="#111" stroke-width="3"/>
<line x1="903.7" y1="102.6" x2="903.7" y2="174.6" stroke="#111" stroke-width="3.5"/>
<line x1="965.7" y1="102.6" x2="965.7" y2="174.6" stroke="#111" stroke-width="3"/>
<path d="M1027.6,102.6 H1038.5 C1040.0,110.6 1041.5,113.6 1044.5,113.6 H1073.5 C1076.5,113.6 1078.0,110.6 1079.5,102.6 H1090.4" stroke="#111" stroke-width="1.6" fill="none" />
<path d="M1039.5,103.6 C1041.0,110.6 1042.5,112.6 1044.5,112.6 H1073.5" stroke="#8a8a8a" stroke-width="1.2" fill="none" />
<path d="M1027.6,174.6 H1038.5 C1040.0,166.6 1041.5,163.6 1044.5,163.6 H1073.5 C1076.5,163.6 1078.0,166.6 1079.5,174.6 H1090.4" stroke="#111" stroke-width="1.6" fill="none" />
<rect x="1027.6" y="134.6" width="62.8" height="5.5" fill="#9a9a9a"/>
<line x1="1027.6" y1="138.8" x2="1090.4" y2="138.8" stroke="#111" stroke-width="1.2"/>
<path d="M1033.6,130.6 Q1059.0,139.1 1084.4,130.6" stroke="#6f6f6f" stroke-width="1.7" fill="none" />
<path d="M1032.6,146.1 Q1059.0,137.6 1085.4,146.1" stroke="#6f6f6f" stroke-width="1.7" fill="none" />
<g transform="translate(1059.0,97.5) scale(1,1)">
<rect x="-12" y="-8.8" width="24" height="17.8" rx="6" fill="#fff" stroke="#111" stroke-width="3.2"/>
<rect x="-8" y="-4.5" width="16" height="11" rx="2.5" fill="none" stroke="#aaa" stroke-width="1"/>
<rect x="-9.5" y="-11.8" width="4" height="5.5" fill="#111"/>
<rect x="5.5" y="-11.8" width="4" height="5.5" fill="#111"/>
<rect x="-8" y="-10" width="16" height="3.6" fill="#333"/>
<rect x="-12.8" y="1" width="3.5" height="6" fill="#111"/>
<rect x="9.3" y="1" width="3.5" height="6" fill="#111"/>
<rect x="-1.7" y="9" width="3.4" height="8" fill="#111"/>
</g>
<g transform="translate(1059.0,179.8) scale(1,-1)">
<rect x="-12" y="-8.8" width="24" height="17.8" rx="6" fill="#fff" stroke="#111" stroke-width="3.2"/>
<rect x="-8" y="-4.5" width="16" height="11" rx="2.5" fill="none" stroke="#aaa" stroke-width="1"/>
<rect x="-9.5" y="-11.8" width="4" height="5.5" fill="#111"/>
<rect x="5.5" y="-11.8" width="4" height="5.5" fill="#111"/>
<rect x="-8" y="-10" width="16" height="3.6" fill="#333"/>
<rect x="-12.8" y="1" width="3.5" height="6" fill="#111"/>
<rect x="9.3" y="1" width="3.5" height="6" fill="#111"/>
<rect x="-1.7" y="9" width="3.4" height="8" fill="#111"/>
</g>
<path d="M1090.4,102.6 H1102.0 C1103.5,110.6 1105.0,113.6 1108.0,113.6 H1137.0 C1140.0,113.6 1141.5,110.6 1143.0,102.6 H1154.5" stroke="#111" stroke-width="1.6" fill="none" />
<path d="M1103.0,103.6 C1104.5,110.6 1106.0,112.6 1108.0,112.6 H1137.0" stroke="#8a8a8a" stroke-width="1.2" fill="none" />
<path d="M1090.4,174.6 H1102.0 C1103.5,166.6 1105.0,163.6 1108.0,163.6 H1137.0 C1140.0,163.6 1141.5,166.6 1143.0,174.6 H1154.5" stroke="#111" stroke-width="1.6" fill="none" />
<rect x="1090.4" y="134.6" width="64.1" height="5.5" fill="#9a9a9a"/>
<line x1="1090.4" y1="138.8" x2="1154.5" y2="138.8" stroke="#111" stroke-width="1.2"/>
<path d="M1096.4,130.6 Q1122.5,139.1 1148.5,130.6" stroke="#6f6f6f" stroke-width="1.7" fill="none" />
<path d="M1095.4,146.1 Q1122.5,137.6 1149.5,146.1" stroke="#6f6f6f" stroke-width="1.7" fill="none" />
<g transform="translate(1122.5,97.5) scale(1,1)">
<rect x="-12" y="-8.8" width="24" height="17.8" rx="6" fill="#fff" stroke="#111" stroke-width="3.2"/>
<rect x="-8" y="-4.5" width="16" height="11" rx="2.5" fill="none" stroke="#aaa" stroke-width="1"/>
<rect x="-9.5" y="-11.8" width="4" height="5.5" fill="#111"/>
<rect x="5.5" y="-11.8" width="4" height="5.5" fill="#111"/>
<rect x="-8" y="-10" width="16" height="3.6" fill="#333"/>
<rect x="-12.8" y="1" width="3.5" height="6" fill="#111"/>
<rect x="9.3" y="1" width="3.5" height="6" fill="#111"/>
<rect x="-1.7" y="9" width="3.4" height="8" fill="#111"/>
</g>
<g transform="translate(1122.5,179.8) scale(1,-1)">
<rect x="-12" y="-8.8" width="24" height="17.8" rx="6" fill="#fff" stroke="#111" stroke-width="3.2"/>
<rect x="-8" y="-4.5" width="16" height="11" rx="2.5" fill="none" stroke="#aaa" stroke-width="1"/>
<rect x="-9.5" y="-11.8" width="4" height="5.5" fill="#111"/>
<rect x="5.5" y="-11.8" width="4" height="5.5" fill="#111"/>
<rect x="-8" y="-10" width="16" height="3.6" fill="#333"/>
<rect x="-12.8" y="1" width="3.5" height="6" fill="#111"/>
<rect x="9.3" y="1" width="3.5" height="6" fill="#111"/>
<rect x="-1.7" y="9" width="3.4" height="8" fill="#111"/>
</g>
<path d="M1154.5,102.6 H1164.8 C1166.2,110.6 1167.8,113.6 1170.8,113.6 H1199.8 C1202.8,113.6 1204.2,110.6 1205.8,102.6 H1216.0" stroke="#111" stroke-width="1.6" fill="none" />
<path d="M1165.8,103.6 C1167.2,110.6 1168.8,112.6 1170.8,112.6 H1199.8" stroke="#8a8a8a" stroke-width="1.2" fill="none" />
<path d="M1154.5,174.6 H1164.8 C1166.2,166.6 1167.8,163.6 1170.8,163.6 H1199.8 C1202.8,163.6 1204.2,166.6 1205.8,174.6 H1216.0" stroke="#111" stroke-width="1.6" fill="none" />
<rect x="1154.5" y="134.6" width="61.5" height="5.5" fill="#9a9a9a"/>
<line x1="1154.5" y1="138.8" x2="1216.0" y2="138.8" stroke="#111" stroke-width="1.2"/>
<path d="M1160.5,130.6 Q1185.2,139.1 1210.0,130.6" stroke="#6f6f6f" stroke-width="1.7" fill="none" />
<path d="M1159.5,146.1 Q1185.2,137.6 1211.0,146.1" stroke="#6f6f6f" stroke-width="1.7" fill="none" />
<g transform="translate(1185.2,97.5) scale(1,1)">
<rect x="-12" y="-8.8" width="24" height="17.8" rx="6" fill="#fff" stroke="#111" stroke-width="3.2"/>
<rect x="-8" y="-4.5" width="16" height="11" rx="2.5" fill="none" stroke="#aaa" stroke-width="1"/>
<rect x="-9.5" y="-11.8" width="4" height="5.5" fill="#111"/>
<rect x="5.5" y="-11.8" width="4" height="5.5" fill="#111"/>
<rect x="-8" y="-10" width="16" height="3.6" fill="#333"/>
<rect x="-12.8" y="1" width="3.5" height="6" fill="#111"/>
<rect x="9.3" y="1" width="3.5" height="6" fill="#111"/>
<rect x="-1.7" y="9" width="3.4" height="8" fill="#111"/>
</g>
<g transform="translate(1185.2,179.8) scale(1,-1)">
<rect x="-12" y="-8.8" width="24" height="17.8" rx="6" fill="#fff" stroke="#111" stroke-width="3.2"/>
<rect x="-8" y="-4.5" width="16" height="11" rx="2.5" fill="none" stroke="#aaa" stroke-width="1"/>
<rect x="-9.5" y="-11.8" width="4" height="5.5" fill="#111"/>
<rect x="5.5" y="-11.8" width="4" height="5.5" fill="#111"/>
<rect x="-8" y="-10" width="16" height="3.6" fill="#333"/>
<rect x="-12.8" y="1" width="3.5" height="6" fill="#111"/>
<rect x="9.3" y="1" width="3.5" height="6" fill="#111"/>
<rect x="-1.7" y="9" width="3.4" height="8" fill="#111"/>
</g>
<line x1="1027.6" y1="102.6" x2="1027.6" y2="174.6" stroke="#111" stroke-width="3.5"/>
<line x1="1090.4" y1="102.6" x2="1090.4" y2="174.6" stroke="#111" stroke-width="3.5"/>
<line x1="1154.5" y1="102.6" x2="1154.5" y2="174.6" stroke="#111" stroke-width="3"/>
<line x1="1216.0" y1="102.6" x2="1216.0" y2="174.6" stroke="#111" stroke-width="3"/>
<rect x="60.2" y="275.6" width="146.8" height="19.4" stroke="#111" stroke-width="1.6" fill="none" rx="0"/>
<line x1="97.3" y1="275.6" x2="97.3" y2="295.0" stroke="#111" stroke-width="1.4"/>
<line x1="134.5" y1="275.6" x2="134.5" y2="295.0" stroke="#111" stroke-width="1.4"/>
<line x1="171.7" y1="275.6" x2="171.7" y2="295.0" stroke="#111" stroke-width="1.4"/>
<line x1="62.7" y1="278.0" x2="94.3" y2="294.0" stroke="#8a8a8a" stroke-width="1.4"/>
<circle cx="77.8" cy="273.6" r="1.5" fill="#111"/>
<line x1="99.8" y1="278.0" x2="131.5" y2="294.0" stroke="#8a8a8a" stroke-width="1.4"/>
<circle cx="114.9" cy="273.6" r="1.5" fill="#111"/>
<line x1="137.0" y1="278.0" x2="168.7" y2="294.0" stroke="#8a8a8a" stroke-width="1.4"/>
<circle cx="152.1" cy="273.6" r="1.5" fill="#111"/>
<line x1="174.2" y1="278.0" x2="204.0" y2="294.0" stroke="#8a8a8a" stroke-width="1.4"/>
<circle cx="188.3" cy="273.6" r="1.5" fill="#111"/>
<rect x="82.3" y="339.5" width="122.8" height="48.0" stroke="#111" stroke-width="1.8" fill="none" rx="0"/>
<line x1="82.3" y1="339.8" x2="205.0" y2="339.8" stroke="#111" stroke-width="2.6"/>
<rect x="84.5" y="312.4" width="25.5" height="24.5" rx="5" fill="#fff" stroke="#111" stroke-width="1.6"/>
<rect x="85.3" y="313.2" width="23.9" height="22.9" rx="4.5" fill="none" stroke="#8a8a8a" stroke-width="1.3"/>
<line x1="86.1" y1="316.4" x2="86.1" y2="332.9" stroke="#333" stroke-width="2.2"/>
<line x1="108.4" y1="316.4" x2="108.4" y2="332.9" stroke="#333" stroke-width="2.2"/>
<line x1="86.5" y1="317.4" x2="108.0" y2="317.4" stroke="#8a8a8a" stroke-width="2"/>
<line x1="88.5" y1="335.9" x2="106.0" y2="335.9" stroke="#222" stroke-width="1.8"/>
<rect x="84.5" y="392.0" width="25.5" height="24.5" rx="5" fill="#fff" stroke="#111" stroke-width="1.6"/>
<rect x="85.3" y="392.8" width="23.9" height="22.9" rx="4.5" fill="none" stroke="#8a8a8a" stroke-width="1.3"/>
<line x1="86.1" y1="396.0" x2="86.1" y2="412.5" stroke="#333" stroke-width="2.2"/>
<line x1="108.4" y1="396.0" x2="108.4" y2="412.5" stroke="#333" stroke-width="2.2"/>
<line x1="86.5" y1="411.5" x2="108.0" y2="411.5" stroke="#8a8a8a" stroke-width="2"/>
<line x1="88.5" y1="393.0" x2="106.0" y2="393.0" stroke="#222" stroke-width="1.8"/>
<rect x="114.5" y="312.4" width="25.5" height="24.5" rx="5" fill="#fff" stroke="#111" stroke-width="1.6"/>
<rect x="115.3" y="313.2" width="23.9" height="22.9" rx="4.5" fill="none" stroke="#8a8a8a" stroke-width="1.3"/>
<line x1="116.1" y1="316.4" x2="116.1" y2="332.9" stroke="#333" stroke-width="2.2"/>
<line x1="138.4" y1="316.4" x2="138.4" y2="332.9" stroke="#333" stroke-width="2.2"/>
<line x1="116.5" y1="317.4" x2="138.0" y2="317.4" stroke="#8a8a8a" stroke-width="2"/>
<line x1="118.5" y1="335.9" x2="136.0" y2="335.9" stroke="#222" stroke-width="1.8"/>
<rect x="114.5" y="392.0" width="25.5" height="24.5" rx="5" fill="#fff" stroke="#111" stroke-width="1.6"/>
<rect x="115.3" y="392.8" width="23.9" height="22.9" rx="4.5" fill="none" stroke="#8a8a8a" stroke-width="1.3"/>
<line x1="116.1" y1="396.0" x2="116.1" y2="412.5" stroke="#333" stroke-width="2.2"/>
<line x1="138.4" y1="396.0" x2="138.4" y2="412.5" stroke="#333" stroke-width="2.2"/>
<line x1="116.5" y1="411.5" x2="138.0" y2="411.5" stroke="#8a8a8a" stroke-width="2"/>
<line x1="118.5" y1="393.0" x2="136.0" y2="393.0" stroke="#222" stroke-width="1.8"/>
<rect x="144.0" y="312.4" width="25.5" height="24.5" rx="5" fill="#fff" stroke="#111" stroke-width="1.6"/>
<rect x="144.8" y="313.2" width="23.9" height="22.9" rx="4.5" fill="none" stroke="#8a8a8a" stroke-width="1.3"/>
<line x1="145.6" y1="316.4" x2="145.6" y2="332.9" stroke="#333" stroke-width="2.2"/>
<line x1="167.9" y1="316.4" x2="167.9" y2="332.9" stroke="#333" stroke-width="2.2"/>
<line x1="146.0" y1="317.4" x2="167.5" y2="317.4" stroke="#8a8a8a" stroke-width="2"/>
<line x1="148.0" y1="335.9" x2="165.5" y2="335.9" stroke="#222" stroke-width="1.8"/>
<rect x="144.0" y="392.0" width="25.5" height="24.5" rx="5" fill="#fff" stroke="#111" stroke-width="1.6"/>
<rect x="144.8" y="392.8" width="23.9" height="22.9" rx="4.5" fill="none" stroke="#8a8a8a" stroke-width="1.3"/>
<line x1="145.6" y1="396.0" x2="145.6" y2="412.5" stroke="#333" stroke-width="2.2"/>
<line x1="167.9" y1="396.0" x2="167.9" y2="412.5" stroke="#333" stroke-width="2.2"/>
<line x1="146.0" y1="411.5" x2="167.5" y2="411.5" stroke="#8a8a8a" stroke-width="2"/>
<line x1="148.0" y1="393.0" x2="165.5" y2="393.0" stroke="#222" stroke-width="1.8"/>
<rect x="174.0" y="312.4" width="25.5" height="24.5" rx="5" fill="#fff" stroke="#111" stroke-width="1.6"/>
<rect x="174.8" y="313.2" width="23.9" height="22.9" rx="4.5" fill="none" stroke="#8a8a8a" stroke-width="1.3"/>
<line x1="175.6" y1="316.4" x2="175.6" y2="332.9" stroke="#333" stroke-width="2.2"/>
<line x1="197.9" y1="316.4" x2="197.9" y2="332.9" stroke="#333" stroke-width="2.2"/>
<line x1="176.0" y1="317.4" x2="197.5" y2="317.4" stroke="#8a8a8a" stroke-width="2"/>
<line x1="178.0" y1="335.9" x2="195.5" y2="335.9" stroke="#222" stroke-width="1.8"/>
<rect x="174.0" y="392.0" width="25.5" height="24.5" rx="5" fill="#fff" stroke="#111" stroke-width="1.6"/>
<rect x="174.8" y="392.8" width="23.9" height="22.9" rx="4.5" fill="none" stroke="#8a8a8a" stroke-width="1.3"/>
<line x1="175.6" y1="396.0" x2="175.6" y2="412.5" stroke="#333" stroke-width="2.2"/>
<line x1="197.9" y1="396.0" x2="197.9" y2="412.5" stroke="#333" stroke-width="2.2"/>
<line x1="176.0" y1="411.5" x2="197.5" y2="411.5" stroke="#8a8a8a" stroke-width="2"/>
<line x1="178.0" y1="393.0" x2="195.5" y2="393.0" stroke="#222" stroke-width="1.8"/>
<rect x="55.8" y="351.3" width="25.2" height="26.5" rx="5" fill="#fff" stroke="#111" stroke-width="1.6"/>
<rect x="56.6" y="352.1" width="23.6" height="24.9" rx="4.5" fill="none" stroke="#8a8a8a" stroke-width="1.3"/>
<line x1="59.8" y1="352.9" x2="77.0" y2="352.9" stroke="#333" stroke-width="2.2"/>
<line x1="59.8" y1="376.2" x2="77.0" y2="376.2" stroke="#333" stroke-width="2.2"/>
<line x1="61.8" y1="353.3" x2="61.8" y2="375.8" stroke="#8a8a8a" stroke-width="2"/>
<rect x="206.0" y="351.3" width="25.2" height="26.5" rx="5" fill="#fff" stroke="#111" stroke-width="1.6"/>
<rect x="206.8" y="352.1" width="23.6" height="24.9" rx="4.5" fill="none" stroke="#8a8a8a" stroke-width="1.3"/>
<line x1="210.0" y1="352.9" x2="227.2" y2="352.9" stroke="#333" stroke-width="2.2"/>
<line x1="210.0" y1="376.2" x2="227.2" y2="376.2" stroke="#333" stroke-width="2.2"/>
<line x1="225.2" y1="353.3" x2="225.2" y2="375.8" stroke="#8a8a8a" stroke-width="2"/>
<path d="M208.8,304 A37,37 0 0 0 246,340" stroke="#8a8a8a" stroke-width="1.3" fill="none" />
<line x1="247.5" y1="410.0" x2="256.3" y2="410.0" stroke="#8a8a8a" stroke-width="3"/>
<line x1="256.3" y1="377.9" x2="256.3" y2="410.6" stroke="#111" stroke-width="2.2"/>
<line x1="314.7" y1="377.9" x2="314.7" y2="410.6" stroke="#111" stroke-width="2.2"/>
<path d="M256.3,377.9 A29.2,29.2 0 0 1 285.5,407.1" stroke="#8a8a8a" stroke-width="1.4" fill="none" />
<path d="M314.7,377.9 A29.2,29.2 0 0 0 285.5,407.1" stroke="#8a8a8a" stroke-width="1.4" fill="none" />
<line x1="314.7" y1="410.6" x2="319.6" y2="410.6" stroke="#8a8a8a" stroke-width="3"/>
<path d="M321.5,430 V399.3 H332.2" stroke="#111" stroke-width="1.6" fill="none" />
<path d="M326.4,430 V403" stroke="#111" stroke-width="1.4" fill="none" />
<line x1="332.2" y1="367.2" x2="332.2" y2="402.2" stroke="#111" stroke-width="2.2"/>
<line x1="391.6" y1="367.2" x2="391.6" y2="402.2" stroke="#111" stroke-width="2.2"/>
<path d="M332.2,367.2 A29.7,29.7 0 0 1 361.9,396.9" stroke="#8a8a8a" stroke-width="1.4" fill="none" />
<path d="M391.6,367.2 A29.7,29.7 0 0 0 361.9,396.9" stroke="#8a8a8a" stroke-width="1.4" fill="none" />
<line x1="391.6" y1="401.0" x2="397.4" y2="401.0" stroke="#8a8a8a" stroke-width="3"/>
<path d="M398.4,430 V385.7 H409.1" stroke="#111" stroke-width="1.6" fill="none" />
<path d="M403.3,430 V390" stroke="#111" stroke-width="2.2" fill="none" />
<line x1="409.1" y1="354.5" x2="409.1" y2="386.0" stroke="#111" stroke-width="2.2"/>
<line x1="467.5" y1="354.5" x2="467.5" y2="386.0" stroke="#111" stroke-width="2.2"/>
<path d="M409.1,354.5 A29.2,29.2 0 0 1 438.3,383.7" stroke="#8a8a8a" stroke-width="1.4" fill="none" />
<path d="M467.5,354.5 A29.2,29.2 0 0 0 438.3,383.7" stroke="#8a8a8a" stroke-width="1.4" fill="none" />
<line x1="467.5" y1="386.0" x2="474.4" y2="386.0" stroke="#8a8a8a" stroke-width="3"/>
<path d="M474.4,388.6 V430" stroke="#111" stroke-width="1.6" fill="none" />
<path d="M484,371 V344.8" stroke="#111" stroke-width="2.2" fill="none" />
<path d="M474.4,386 V371 H484" stroke="#111" stroke-width="1.5" fill="none" />
<text x="438.3" y="411" class="t" font-size="10.5" fill="#333" stroke="#333" stroke-width="0.35" text-anchor="middle" letter-spacing="-0.5">SERVER</text>
<line x1="484.0" y1="344.8" x2="484.0" y2="370.0" stroke="#111" stroke-width="2.2"/>
<line x1="542.5" y1="332.0" x2="542.5" y2="370.0" stroke="#111" stroke-width="2.2"/>
<path d="M484.0,344.8 A23.5,23.5 0 0 1 507.5,368.3" stroke="#8a8a8a" stroke-width="1.4" fill="none" />
<path d="M542.5,332.0 A35.0,35.0 0 0 0 507.5,367.0" stroke="#8a8a8a" stroke-width="1.4" fill="none" />
<line x1="543.4" y1="332.0" x2="543.4" y2="371.0" stroke="#111" stroke-width="2.4"/>
<rect x="381.4" y="260.8" width="31.9" height="50.4" stroke="#111" stroke-width="1.8" fill="none" rx="0"/>
<rect x="385.2" y="260.8" width="24.5" height="44.2" stroke="#111" stroke-width="1.6" fill="none" rx="0"/>
<path d="M386.5,263 V281.2 H408 V263" stroke="#111" stroke-width="2.4" fill="none" />
<line x1="387.0" y1="281.2" x2="407.5" y2="281.2" stroke="#8a8a8a" stroke-width="1.6"/>
<line x1="410.8" y1="262.0" x2="410.8" y2="305.0" stroke="#8a8a8a" stroke-width="2.4"/>
<rect x="381.4" y="232.5" width="4.2" height="28.3" stroke="#111" stroke-width="1.5" fill="#fff" rx="0"/>
<rect x="409.1" y="232.5" width="4.2" height="28.3" stroke="#111" stroke-width="1.5" fill="#fff" rx="0"/>
<line x1="383.5" y1="234.0" x2="383.5" y2="259.0" stroke="#8a8a8a" stroke-width="1.6"/>
<line x1="411.2" y1="234.0" x2="411.2" y2="259.0" stroke="#8a8a8a" stroke-width="2"/>
<line x1="408.8" y1="208.6" x2="408.8" y2="232.5" stroke="#333" stroke-width="2.6"/>
<path d="M408.8,208.6 A24,24 0 0 0 385,232.5" stroke="#8a8a8a" stroke-width="1.4" fill="none" />
<line x1="578.0" y1="249.3" x2="578.0" y2="376.0" stroke="#8a8a8a" stroke-width="3.2"/>
<line x1="578.0" y1="249.3" x2="615.2" y2="249.3" stroke="#111" stroke-width="2.2"/>
<line x1="578.0" y1="313.2" x2="615.2" y2="313.2" stroke="#111" stroke-width="2.2"/>
<rect x="579.5" y="314.2" width="35.0" height="3.0" fill="#9a9a9a"/>
<path d="M615.2,249.3 V261.2 C607.4,261.2 602.2,264.2 602.2,271.2 V291.2 C602.2,298.2 607.4,301.2 615.2,301.2 V313.2" stroke="#111" stroke-width="1.6" fill="none" />
<path d="M613.9,262.8 C607.4,262.8 603.2,265.2 603.2,271.2 V291.2 C603.2,297.2 607.4,299.8 613.9,299.8" stroke="#8a8a8a" stroke-width="1.2" fill="none" />
<path d="M615.2,313.2 V324.6 C607.4,324.6 602.2,327.6 602.2,334.6 V354.6 C602.2,361.6 607.4,364.6 615.2,364.6 V376.0" stroke="#111" stroke-width="1.6" fill="none" />
<path d="M613.9,326.1 C607.4,326.1 603.2,328.6 603.2,334.6 V354.6 C603.2,360.6 607.4,363.1 613.9,363.1" stroke="#8a8a8a" stroke-width="1.2" fill="none" />
<path d="M584,261.3 Q578,281.25 584,301.2" stroke="#8a8a8a" stroke-width="1.2" fill="none" />
<path d="M584,325.2 Q578,344.6 584,364" stroke="#8a8a8a" stroke-width="1.2" fill="none" />
<g transform="translate(620.0,281.3) scale(-1,1)">
<rect x="-10.7" y="-9.8" width="8.6" height="19.9" fill="#8a8a8a"/>
<rect x="-10.7" y="-9.8" width="8.6" height="4" fill="#111"/>
<rect x="-10.7" y="6.1" width="8.6" height="4" fill="#111"/>
<rect x="-2.3" y="-9.8" width="13.1" height="19.9" fill="#fff" stroke="#111" stroke-width="2.4"/>
<rect x="0.3" y="-7.2" width="8" height="14.7" fill="none" stroke="#bbb" stroke-width="1"/>
<rect x="-1" y="-13" width="10.5" height="2.6" fill="#444"/>
<rect x="-1" y="10.6" width="10.5" height="2.6" fill="#444"/>
<rect x="10.8" y="-2" width="7" height="4" fill="#111"/>
</g>
<g transform="translate(620.0,343.5) scale(-1,1)">
<rect x="-10.7" y="-9.8" width="8.6" height="19.9" fill="#8a8a8a"/>
<rect x="-10.7" y="-9.8" width="8.6" height="4" fill="#111"/>
<rect x="-10.7" y="6.1" width="8.6" height="4" fill="#111"/>
<rect x="-2.3" y="-9.8" width="13.1" height="19.9" fill="#fff" stroke="#111" stroke-width="2.4"/>
<rect x="0.3" y="-7.2" width="8" height="14.7" fill="none" stroke="#bbb" stroke-width="1"/>
<rect x="-1" y="-13" width="10.5" height="2.6" fill="#444"/>
<rect x="-1" y="10.6" width="10.5" height="2.6" fill="#444"/>
<rect x="10.8" y="-2" width="7" height="4" fill="#111"/>
</g>
<rect x="556.0" y="260.0" width="22.0" height="21.3" stroke="#111" stroke-width="1.8" fill="none" rx="0"/>
<line x1="687.8" y1="249.3" x2="763.0" y2="249.3" stroke="#111" stroke-width="2.4"/>
<line x1="687.8" y1="313.2" x2="763.0" y2="313.2" stroke="#111" stroke-width="2.2"/>
<rect x="689.3" y="314.2" width="72.2" height="3.0" fill="#9a9a9a"/>
<line x1="725.2" y1="249.3" x2="725.2" y2="376.0" stroke="#111" stroke-width="1.8"/>
<path d="M687.8,249.3 V261.2 C695.6,261.2 700.8,264.2 700.8,271.2 V291.2 C700.8,298.2 695.6,301.2 687.8,301.2 V313.2" stroke="#111" stroke-width="1.6" fill="none" />
<path d="M689.1,262.8 C695.6,262.8 699.8,265.2 699.8,271.2 V291.2 C699.8,297.2 695.6,299.8 689.1,299.8" stroke="#8a8a8a" stroke-width="1.2" fill="none" />
<path d="M687.8,313.2 V324.6 C695.6,324.6 700.8,327.6 700.8,334.6 V354.6 C700.8,361.6 695.6,364.6 687.8,364.6 V376.0" stroke="#111" stroke-width="1.6" fill="none" />
<path d="M689.1,326.1 C695.6,326.1 699.8,328.6 699.8,334.6 V354.6 C699.8,360.6 695.6,363.1 689.1,363.1" stroke="#8a8a8a" stroke-width="1.2" fill="none" />
<path d="M763.0,249.3 V261.2 C755.2,261.2 750.0,264.2 750.0,271.2 V291.2 C750.0,298.2 755.2,301.2 763.0,301.2 V313.2" stroke="#111" stroke-width="1.6" fill="none" />
<path d="M761.7,262.8 C755.2,262.8 751.0,265.2 751.0,271.2 V291.2 C751.0,297.2 755.2,299.8 761.7,299.8" stroke="#8a8a8a" stroke-width="1.2" fill="none" />
<path d="M763.0,313.2 V324.6 C755.2,324.6 750.0,327.6 750.0,334.6 V354.6 C750.0,361.6 755.2,364.6 763.0,364.6 V376.0" stroke="#111" stroke-width="1.6" fill="none" />
<path d="M761.7,326.1 C755.2,326.1 751.0,328.6 751.0,334.6 V354.6 C751.0,360.6 755.2,363.1 761.7,363.1" stroke="#8a8a8a" stroke-width="1.2" fill="none" />
<path d="M719.2,259.3 Q723.7,281.2 719.2,303.2" stroke="#8a8a8a" stroke-width="1.2" fill="none" />
<path d="M731.2,259.3 Q726.7,281.2 731.2,303.2" stroke="#8a8a8a" stroke-width="1.2" fill="none" />
<path d="M719.2,323.2 Q723.7,344.6 719.2,366.0" stroke="#8a8a8a" stroke-width="1.2" fill="none" />
<path d="M731.2,323.2 Q726.7,344.6 731.2,366.0" stroke="#8a8a8a" stroke-width="1.2" fill="none" />
<g transform="translate(683.0,281.3) scale(1,1)">
<rect x="-10.7" y="-9.8" width="8.6" height="19.9" fill="#8a8a8a"/>
<rect x="-10.7" y="-9.8" width="8.6" height="4" fill="#111"/>
<rect x="-10.7" y="6.1" width="8.6" height="4" fill="#111"/>
<rect x="-2.3" y="-9.8" width="13.1" height="19.9" fill="#fff" stroke="#111" stroke-width="2.4"/>
<rect x="0.3" y="-7.2" width="8" height="14.7" fill="none" stroke="#bbb" stroke-width="1"/>
<rect x="-1" y="-13" width="10.5" height="2.6" fill="#444"/>
<rect x="-1" y="10.6" width="10.5" height="2.6" fill="#444"/>
<rect x="10.8" y="-2" width="7" height="4" fill="#111"/>
</g>
<g transform="translate(683.0,343.5) scale(1,1)">
<rect x="-10.7" y="-9.8" width="8.6" height="19.9" fill="#8a8a8a"/>
<rect x="-10.7" y="-9.8" width="8.6" height="4" fill="#111"/>
<rect x="-10.7" y="6.1" width="8.6" height="4" fill="#111"/>
<rect x="-2.3" y="-9.8" width="13.1" height="19.9" fill="#fff" stroke="#111" stroke-width="2.4"/>
<rect x="0.3" y="-7.2" width="8" height="14.7" fill="none" stroke="#bbb" stroke-width="1"/>
<rect x="-1" y="-13" width="10.5" height="2.6" fill="#444"/>
<rect x="-1" y="10.6" width="10.5" height="2.6" fill="#444"/>
<rect x="10.8" y="-2" width="7" height="4" fill="#111"/>
</g>
<g transform="translate(769.0,281.3) scale(-1,1)">
<rect x="-10.7" y="-9.8" width="8.6" height="19.9" fill="#8a8a8a"/>
<rect x="-10.7" y="-9.8" width="8.6" height="4" fill="#111"/>
<rect x="-10.7" y="6.1" width="8.6" height="4" fill="#111"/>
<rect x="-2.3" y="-9.8" width="13.1" height="19.9" fill="#fff" stroke="#111" stroke-width="2.4"/>
<rect x="0.3" y="-7.2" width="8" height="14.7" fill="none" stroke="#bbb" stroke-width="1"/>
<rect x="-1" y="-13" width="10.5" height="2.6" fill="#444"/>
<rect x="-1" y="10.6" width="10.5" height="2.6" fill="#444"/>
<rect x="10.8" y="-2" width="7" height="4" fill="#111"/>
</g>
<g transform="translate(769.0,343.5) scale(-1,1)">
<rect x="-10.7" y="-9.8" width="8.6" height="19.9" fill="#8a8a8a"/>
<rect x="-10.7" y="-9.8" width="8.6" height="4" fill="#111"/>
<rect x="-10.7" y="6.1" width="8.6" height="4" fill="#111"/>
<rect x="-2.3" y="-9.8" width="13.1" height="19.9" fill="#fff" stroke="#111" stroke-width="2.4"/>
<rect x="0.3" y="-7.2" width="8" height="14.7" fill="none" stroke="#bbb" stroke-width="1"/>
<rect x="-1" y="-13" width="10.5" height="2.6" fill="#444"/>
<rect x="-1" y="10.6" width="10.5" height="2.6" fill="#444"/>
<rect x="10.8" y="-2" width="7" height="4" fill="#111"/>
</g>
<line x1="578.0" y1="376.0" x2="615.2" y2="376.0" stroke="#111" stroke-width="2.2"/>
<line x1="687.8" y1="376.0" x2="763.0" y2="376.0" stroke="#111" stroke-width="2.2"/>
<rect x="820.4" y="260.0" width="31.8" height="51.4" stroke="#111" stroke-width="1.8" fill="none" rx="0"/>
<rect x="823.6" y="262.5" width="25.4" height="42.5" stroke="#111" stroke-width="1.4" fill="none" rx="0"/>
<path d="M824.5,264 V281.3 H848 V264" stroke="#8a8a8a" stroke-width="2" fill="none" />
<line x1="881.4" y1="249.3" x2="918.6" y2="249.3" stroke="#111" stroke-width="2.4"/>
<line x1="846.0" y1="313.2" x2="918.6" y2="313.2" stroke="#111" stroke-width="2.2"/>
<rect x="847.5" y="314.2" width="70.0" height="3.0" fill="#9a9a9a"/>
<line x1="881.4" y1="249.3" x2="881.4" y2="376.0" stroke="#111" stroke-width="1.8"/>
<line x1="846.0" y1="376.0" x2="918.6" y2="376.0" stroke="#111" stroke-width="2.2"/>
<path d="M918.6,249.3 V261.2 C910.8,261.2 905.6,264.2 905.6,271.2 V291.2 C905.6,298.2 910.8,301.2 918.6,301.2 V313.2" stroke="#111" stroke-width="1.6" fill="none" />
<path d="M917.3,262.8 C910.8,262.8 906.6,265.2 906.6,271.2 V291.2 C906.6,297.2 910.8,299.8 917.3,299.8" stroke="#8a8a8a" stroke-width="1.2" fill="none" />
<path d="M918.6,313.2 V324.6 C910.8,324.6 905.6,327.6 905.6,334.6 V354.6 C905.6,361.6 910.8,364.6 918.6,364.6 V376.0" stroke="#111" stroke-width="1.6" fill="none" />
<path d="M917.3,326.1 C910.8,326.1 906.6,328.6 906.6,334.6 V354.6 C906.6,360.6 910.8,363.1 917.3,363.1" stroke="#8a8a8a" stroke-width="1.2" fill="none" />
<path d="M846.0,313.2 V324.6 C853.8,324.6 859.0,327.6 859.0,334.6 V354.6 C859.0,361.6 853.8,364.6 846.0,364.6 V376.0" stroke="#111" stroke-width="1.6" fill="none" />
<path d="M847.3,326.1 C853.8,326.1 858.0,328.6 858.0,334.6 V354.6 C858.0,360.6 853.8,363.1 847.3,363.1" stroke="#8a8a8a" stroke-width="1.2" fill="none" />
<path d="M888,259.3 Q883,281.25 888,303.2" stroke="#8a8a8a" stroke-width="1.2" fill="none" />
<path d="M888,323.2 Q883,344.6 888,366" stroke="#8a8a8a" stroke-width="1.2" fill="none" />
<path d="M875,323.2 Q879.5,344.6 875,366" stroke="#8a8a8a" stroke-width="1.2" fill="none" />
<g transform="translate(924.0,281.3) scale(-1,1)">
<rect x="-10.7" y="-9.8" width="8.6" height="19.9" fill="#8a8a8a"/>
<rect x="-10.7" y="-9.8" width="8.6" height="4" fill="#111"/>
<rect x="-10.7" y="6.1" width="8.6" height="4" fill="#111"/>
<rect x="-2.3" y="-9.8" width="13.1" height="19.9" fill="#fff" stroke="#111" stroke-width="2.4"/>
<rect x="0.3" y="-7.2" width="8" height="14.7" fill="none" stroke="#bbb" stroke-width="1"/>
<rect x="-1" y="-13" width="10.5" height="2.6" fill="#444"/>
<rect x="-1" y="10.6" width="10.5" height="2.6" fill="#444"/>
<rect x="10.8" y="-2" width="7" height="4" fill="#111"/>
</g>
<g transform="translate(924.0,343.5) scale(-1,1)">
<rect x="-10.7" y="-9.8" width="8.6" height="19.9" fill="#8a8a8a"/>
<rect x="-10.7" y="-9.8" width="8.6" height="4" fill="#111"/>
<rect x="-10.7" y="6.1" width="8.6" height="4" fill="#111"/>
<rect x="-2.3" y="-9.8" width="13.1" height="19.9" fill="#fff" stroke="#111" stroke-width="2.4"/>
<rect x="0.3" y="-7.2" width="8" height="14.7" fill="none" stroke="#bbb" stroke-width="1"/>
<rect x="-1" y="-13" width="10.5" height="2.6" fill="#444"/>
<rect x="-1" y="10.6" width="10.5" height="2.6" fill="#444"/>
<rect x="10.8" y="-2" width="7" height="4" fill="#111"/>
</g>
<g transform="translate(840.0,343.5) scale(1,1)">
<rect x="-10.7" y="-9.8" width="8.6" height="19.9" fill="#8a8a8a"/>
<rect x="-10.7" y="-9.8" width="8.6" height="4" fill="#111"/>
<rect x="-10.7" y="6.1" width="8.6" height="4" fill="#111"/>
<rect x="-2.3" y="-9.8" width="13.1" height="19.9" fill="#fff" stroke="#111" stroke-width="2.4"/>
<rect x="0.3" y="-7.2" width="8" height="14.7" fill="none" stroke="#bbb" stroke-width="1"/>
<rect x="-1" y="-13" width="10.5" height="2.6" fill="#444"/>
<rect x="-1" y="10.6" width="10.5" height="2.6" fill="#444"/>
<rect x="10.8" y="-2" width="7" height="4" fill="#111"/>
</g>
<line x1="1001.8" y1="249.3" x2="1040.0" y2="249.3" stroke="#111" stroke-width="2.4"/>
<line x1="1001.8" y1="313.2" x2="1040.0" y2="313.2" stroke="#111" stroke-width="2.2"/>
<rect x="1003.0" y="314.2" width="36.0" height="3.0" fill="#9a9a9a"/>
<line x1="1001.8" y1="376.0" x2="1040.0" y2="376.0" stroke="#111" stroke-width="2.2"/>
<line x1="1040.0" y1="249.3" x2="1040.0" y2="376.0" stroke="#111" stroke-width="1.8"/>
<line x1="1042.5" y1="260.0" x2="1042.5" y2="376.0" stroke="#8a8a8a" stroke-width="3.5"/>
<path d="M1001.8,249.3 V261.2 C1009.6,261.2 1014.8,264.2 1014.8,271.2 V291.2 C1014.8,298.2 1009.6,301.2 1001.8,301.2 V313.2" stroke="#111" stroke-width="1.6" fill="none" />
<path d="M1003.1,262.8 C1009.6,262.8 1013.8,265.2 1013.8,271.2 V291.2 C1013.8,297.2 1009.6,299.8 1003.1,299.8" stroke="#8a8a8a" stroke-width="1.2" fill="none" />
<path d="M1001.8,313.2 V324.6 C1009.6,324.6 1014.8,327.6 1014.8,334.6 V354.6 C1014.8,361.6 1009.6,364.6 1001.8,364.6 V376.0" stroke="#111" stroke-width="1.6" fill="none" />
<path d="M1003.1,326.1 C1009.6,326.1 1013.8,328.6 1013.8,334.6 V354.6 C1013.8,360.6 1009.6,363.1 1003.1,363.1" stroke="#8a8a8a" stroke-width="1.2" fill="none" />
<path d="M1033,259.3 Q1038,281.25 1033,303.2" stroke="#8a8a8a" stroke-width="1.2" fill="none" />
<path d="M1033,323.2 Q1038,344.6 1033,366" stroke="#8a8a8a" stroke-width="1.2" fill="none" />
<g transform="translate(997.0,281.3) scale(1,1)">
<rect x="-10.7" y="-9.8" width="8.6" height="19.9" fill="#8a8a8a"/>
<rect x="-10.7" y="-9.8" width="8.6" height="4" fill="#111"/>
<rect x="-10.7" y="6.1" width="8.6" height="4" fill="#111"/>
<rect x="-2.3" y="-9.8" width="13.1" height="19.9" fill="#fff" stroke="#111" stroke-width="2.4"/>
<rect x="0.3" y="-7.2" width="8" height="14.7" fill="none" stroke="#bbb" stroke-width="1"/>
<rect x="-1" y="-13" width="10.5" height="2.6" fill="#444"/>
<rect x="-1" y="10.6" width="10.5" height="2.6" fill="#444"/>
<rect x="10.8" y="-2" width="7" height="4" fill="#111"/>
</g>
<g transform="translate(997.0,343.5) scale(1,1)">
<rect x="-10.7" y="-9.8" width="8.6" height="19.9" fill="#8a8a8a"/>
<rect x="-10.7" y="-9.8" width="8.6" height="4" fill="#111"/>
<rect x="-10.7" y="6.1" width="8.6" height="4" fill="#111"/>
<rect x="-2.3" y="-9.8" width="13.1" height="19.9" fill="#fff" stroke="#111" stroke-width="2.4"/>
<rect x="0.3" y="-7.2" width="8" height="14.7" fill="none" stroke="#bbb" stroke-width="1"/>
<rect x="-1" y="-13" width="10.5" height="2.6" fill="#444"/>
<rect x="-1" y="10.6" width="10.5" height="2.6" fill="#444"/>
<rect x="10.8" y="-2" width="7" height="4" fill="#111"/>
</g>
<rect x="543.4" y="375.2" width="682.0" height="5.4" fill="#8f8f8f"/>
<line x1="543.4" y1="375.6" x2="1225.3" y2="375.6" stroke="#111" stroke-width="1.5"/>
<line x1="543.4" y1="376.0" x2="543.4" y2="380.5" stroke="#111" stroke-width="1.6"/>
<path d="M1118.9,260.7 H1087.4 V294.9 H1176" stroke="#111" stroke-width="1.8" fill="none" />
<path d="M1151.4,260.7 H1168.5" stroke="#111" stroke-width="1.8" fill="none" />
<line x1="1168.2" y1="261.0" x2="1168.2" y2="294.5" stroke="#8a8a8a" stroke-width="2.2"/>
<path d="M1107.7,266.6 H1119" stroke="#8a8a8a" stroke-width="2.2" fill="none" />
<line x1="1107.7" y1="261.3" x2="1107.7" y2="290.8" stroke="#8a8a8a" stroke-width="2.2"/>
<path d="M1119.5,266.6 V229.4" stroke="#8a8a8a" stroke-width="3" fill="none" />
<line x1="1118.5" y1="229.4" x2="1124.0" y2="229.4" stroke="#111" stroke-width="2"/>
<path d="M1151.4,260.7 V266.6 H1163.2" stroke="#8a8a8a" stroke-width="2.2" fill="none" />
<path d="M1107.7,290.8 H1163.2 V266.6" stroke="#111" stroke-width="1.8" fill="none" />
<line x1="1087.4" y1="281.4" x2="1107.7" y2="281.4" stroke="#8a8a8a" stroke-width="2"/>
<path d="M1121.3,230 A30,30.7 0 0 1 1150.8,260.7" stroke="#777" stroke-width="1.5" fill="none" />
<line x1="1133.3" y1="294.3" x2="1133.3" y2="376.0" stroke="#111" stroke-width="1.5"/>
<line x1="1157.3" y1="294.3" x2="1157.3" y2="376.0" stroke="#111" stroke-width="1.5"/>
<line x1="1172.7" y1="294.3" x2="1172.7" y2="376.0" stroke="#111" stroke-width="1.5"/>
<line x1="1165" y1="296" x2="1165" y2="375" stroke="#8a8a8a" stroke-width="4" stroke-dasharray="2.5,1.5"/>
<line x1="1162.5" y1="296.0" x2="1162.5" y2="375.0" stroke="#111" stroke-width="1"/>
<rect x="1106.3" y="321.4" width="24.7" height="25.5" rx="5" fill="#fff" stroke="#111" stroke-width="1.6"/>
<rect x="1107.1" y="322.2" width="23.1" height="23.9" rx="4.5" fill="none" stroke="#8a8a8a" stroke-width="1.3"/>
<line x1="1110.3" y1="323.0" x2="1127.0" y2="323.0" stroke="#333" stroke-width="2.2"/>
<line x1="1110.3" y1="345.3" x2="1127.0" y2="345.3" stroke="#333" stroke-width="2.2"/>
<line x1="1112.3" y1="323.4" x2="1112.3" y2="344.9" stroke="#8a8a8a" stroke-width="2"/>
<line x1="1217.5" y1="38.9" x2="1217.5" y2="207.0" stroke="#8a8a8a" stroke-width="2.4"/>
<line x1="1222.8" y1="38.9" x2="1222.8" y2="207.0" stroke="#111" stroke-width="1.8"/>
<path d="M1216.8,207 H1227.6" stroke="#111" stroke-width="1.4" fill="none" />
<line x1="1225.0" y1="170.0" x2="1225.0" y2="205.0" stroke="#8a8a8a" stroke-width="3"/>
<path d="M1226,170 A32,33 0 0 1 1258.5,203.2" stroke="#8a8a8a" stroke-width="1.4" fill="none" />
<rect x="1258.5" y="203.2" width="218.0" height="4.5" fill="#111"/>
<rect x="1258.5" y="203.2" width="12.0" height="4.5" fill="#8a8a8a"/>
<rect x="1433.0" y="203.2" width="44.0" height="4.5" fill="#8a8a8a"/>
<rect x="1476.6" y="38.0" width="6.8" height="187.3" fill="#8a8a8a"/>
<line x1="1483.4" y1="38.0" x2="1483.4" y2="225.3" stroke="#111" stroke-width="1.2"/>
<rect x="1290.8" y="102.7" width="120.2" height="48.1" stroke="#111" stroke-width="1.8" fill="none" rx="0"/>
<rect x="1292.6" y="75.2" width="24.7" height="23.9" rx="5" fill="#fff" stroke="#111" stroke-width="1.6"/>
<rect x="1293.4" y="76.0" width="23.1" height="22.3" rx="4.5" fill="none" stroke="#8a8a8a" stroke-width="1.3"/>
<line x1="1294.2" y1="79.2" x2="1294.2" y2="95.1" stroke="#333" stroke-width="2.2"/>
<line x1="1315.7" y1="79.2" x2="1315.7" y2="95.1" stroke="#333" stroke-width="2.2"/>
<line x1="1294.6" y1="80.2" x2="1315.3" y2="80.2" stroke="#8a8a8a" stroke-width="2"/>
<line x1="1296.6" y1="98.1" x2="1313.3" y2="98.1" stroke="#222" stroke-width="1.8"/>
<rect x="1292.6" y="154.0" width="24.7" height="23.9" rx="5" fill="#fff" stroke="#111" stroke-width="1.6"/>
<rect x="1293.4" y="154.8" width="23.1" height="22.3" rx="4.5" fill="none" stroke="#8a8a8a" stroke-width="1.3"/>
<line x1="1294.2" y1="158.0" x2="1294.2" y2="173.9" stroke="#333" stroke-width="2.2"/>
<line x1="1315.7" y1="158.0" x2="1315.7" y2="173.9" stroke="#333" stroke-width="2.2"/>
<line x1="1294.6" y1="172.9" x2="1315.3" y2="172.9" stroke="#8a8a8a" stroke-width="2"/>
<line x1="1296.6" y1="155.0" x2="1313.3" y2="155.0" stroke="#222" stroke-width="1.8"/>
<rect x="1322.8" y="75.2" width="24.7" height="23.9" rx="5" fill="#fff" stroke="#111" stroke-width="1.6"/>
<rect x="1323.6" y="76.0" width="23.1" height="22.3" rx="4.5" fill="none" stroke="#8a8a8a" stroke-width="1.3"/>
<line x1="1324.4" y1="79.2" x2="1324.4" y2="95.1" stroke="#333" stroke-width="2.2"/>
<line x1="1345.9" y1="79.2" x2="1345.9" y2="95.1" stroke="#333" stroke-width="2.2"/>
<line x1="1324.8" y1="80.2" x2="1345.5" y2="80.2" stroke="#8a8a8a" stroke-width="2"/>
<line x1="1326.8" y1="98.1" x2="1343.5" y2="98.1" stroke="#222" stroke-width="1.8"/>
<rect x="1322.8" y="154.0" width="24.7" height="23.9" rx="5" fill="#fff" stroke="#111" stroke-width="1.6"/>
<rect x="1323.6" y="154.8" width="23.1" height="22.3" rx="4.5" fill="none" stroke="#8a8a8a" stroke-width="1.3"/>
<line x1="1324.4" y1="158.0" x2="1324.4" y2="173.9" stroke="#333" stroke-width="2.2"/>
<line x1="1345.9" y1="158.0" x2="1345.9" y2="173.9" stroke="#333" stroke-width="2.2"/>
<line x1="1324.8" y1="172.9" x2="1345.5" y2="172.9" stroke="#8a8a8a" stroke-width="2"/>
<line x1="1326.8" y1="155.0" x2="1343.5" y2="155.0" stroke="#222" stroke-width="1.8"/>
<rect x="1352.6" y="75.2" width="24.7" height="23.9" rx="5" fill="#fff" stroke="#111" stroke-width="1.6"/>
<rect x="1353.4" y="76.0" width="23.1" height="22.3" rx="4.5" fill="none" stroke="#8a8a8a" stroke-width="1.3"/>
<line x1="1354.2" y1="79.2" x2="1354.2" y2="95.1" stroke="#333" stroke-width="2.2"/>
<line x1="1375.7" y1="79.2" x2="1375.7" y2="95.1" stroke="#333" stroke-width="2.2"/>
<line x1="1354.6" y1="80.2" x2="1375.3" y2="80.2" stroke="#8a8a8a" stroke-width="2"/>
<line x1="1356.6" y1="98.1" x2="1373.3" y2="98.1" stroke="#222" stroke-width="1.8"/>
<rect x="1352.6" y="154.0" width="24.7" height="23.9" rx="5" fill="#fff" stroke="#111" stroke-width="1.6"/>
<rect x="1353.4" y="154.8" width="23.1" height="22.3" rx="4.5" fill="none" stroke="#8a8a8a" stroke-width="1.3"/>
<line x1="1354.2" y1="158.0" x2="1354.2" y2="173.9" stroke="#333" stroke-width="2.2"/>
<line x1="1375.7" y1="158.0" x2="1375.7" y2="173.9" stroke="#333" stroke-width="2.2"/>
<line x1="1354.6" y1="172.9" x2="1375.3" y2="172.9" stroke="#8a8a8a" stroke-width="2"/>
<line x1="1356.6" y1="155.0" x2="1373.3" y2="155.0" stroke="#222" stroke-width="1.8"/>
<rect x="1383.0" y="75.2" width="24.7" height="23.9" rx="5" fill="#fff" stroke="#111" stroke-width="1.6"/>
<rect x="1383.8" y="76.0" width="23.1" height="22.3" rx="4.5" fill="none" stroke="#8a8a8a" stroke-width="1.3"/>
<line x1="1384.6" y1="79.2" x2="1384.6" y2="95.1" stroke="#333" stroke-width="2.2"/>
<line x1="1406.1" y1="79.2" x2="1406.1" y2="95.1" stroke="#333" stroke-width="2.2"/>
<line x1="1385.0" y1="80.2" x2="1405.7" y2="80.2" stroke="#8a8a8a" stroke-width="2"/>
<line x1="1387.0" y1="98.1" x2="1403.7" y2="98.1" stroke="#222" stroke-width="1.8"/>
<rect x="1383.0" y="154.0" width="24.7" height="23.9" rx="5" fill="#fff" stroke="#111" stroke-width="1.6"/>
<rect x="1383.8" y="154.8" width="23.1" height="22.3" rx="4.5" fill="none" stroke="#8a8a8a" stroke-width="1.3"/>
<line x1="1384.6" y1="158.0" x2="1384.6" y2="173.9" stroke="#333" stroke-width="2.2"/>
<line x1="1406.1" y1="158.0" x2="1406.1" y2="173.9" stroke="#333" stroke-width="2.2"/>
<line x1="1385.0" y1="172.9" x2="1405.7" y2="172.9" stroke="#8a8a8a" stroke-width="2"/>
<line x1="1387.0" y1="155.0" x2="1403.7" y2="155.0" stroke="#222" stroke-width="1.8"/>
<rect x="1263.0" y="113.0" width="24.0" height="27.7" rx="5" fill="#fff" stroke="#111" stroke-width="1.6"/>
<rect x="1263.8" y="113.8" width="22.4" height="26.1" rx="4.5" fill="none" stroke="#8a8a8a" stroke-width="1.3"/>
<line x1="1267.0" y1="114.6" x2="1283.0" y2="114.6" stroke="#333" stroke-width="2.2"/>
<line x1="1267.0" y1="139.1" x2="1283.0" y2="139.1" stroke="#333" stroke-width="2.2"/>
<line x1="1269.0" y1="115.0" x2="1269.0" y2="138.7" stroke="#8a8a8a" stroke-width="2"/>
<rect x="1413.6" y="113.0" width="24.8" height="27.7" rx="5" fill="#fff" stroke="#111" stroke-width="1.6"/>
<rect x="1414.4" y="113.8" width="23.2" height="26.1" rx="4.5" fill="none" stroke="#8a8a8a" stroke-width="1.3"/>
<line x1="1417.6" y1="114.6" x2="1434.4" y2="114.6" stroke="#333" stroke-width="2.2"/>
<line x1="1417.6" y1="139.1" x2="1434.4" y2="139.1" stroke="#333" stroke-width="2.2"/>
<line x1="1432.4" y1="115.0" x2="1432.4" y2="138.7" stroke="#8a8a8a" stroke-width="2"/>
<rect x="1619.0" y="52.6" width="2.6" height="195.4" fill="#8a8a8a"/>
<rect x="1535.7" y="52.6" width="37.2" height="73.9" stroke="#111" stroke-width="1.8" fill="none" rx="0"/>
<line x1="1572.9" y1="71.7" x2="1620.0" y2="71.7" stroke="#111" stroke-width="1.6"/>
<line x1="1573.0" y1="53.0" x2="1573.0" y2="71.7" stroke="#8a8a8a" stroke-width="2.2"/>
<path d="M1574.6,76.0 H1591.0 A11,13.3 0 0 1 1591.0,102.7 H1574.6" stroke="#111" stroke-width="2.2" fill="none" />
<path d="M1574.6,79.0 H1590.0 A8.5,10.3 0 0 1 1590.0,99.7 H1574.6" stroke="#8a8a8a" stroke-width="1.4" fill="none" />
<line x1="1575.6" y1="76.0" x2="1575.6" y2="102.7" stroke="#8a8a8a" stroke-width="2.2"/>
<rect x="1508.0" y="58.4" width="24.0" height="23.0" rx="4" fill="#fff" stroke="#111" stroke-width="1.5"/>
<rect x="1509.0" y="59.4" width="22.0" height="21.0" rx="3.5" fill="none" stroke="#8a8a8a" stroke-width="1.2"/>
<line x1="1512.0" y1="60.4" x2="1512.0" y2="79.4" stroke="#8a8a8a" stroke-width="1.2"/>
<rect x="1508.0" y="97.3" width="24.0" height="23.9" rx="4" fill="#fff" stroke="#111" stroke-width="1.5"/>
<rect x="1509.0" y="98.3" width="22.0" height="21.9" rx="3.5" fill="none" stroke="#8a8a8a" stroke-width="1.2"/>
<line x1="1512.0" y1="99.3" x2="1512.0" y2="119.2" stroke="#8a8a8a" stroke-width="1.2"/>
<circle cx="1573.6" cy="200.8" r="24.3" fill="#fff" stroke="#8a8a8a" stroke-width="1.6"/>
<circle cx="1573.6" cy="200.8" r="23.5" fill="none" stroke="#444" stroke-width="0.7"/>
<g transform="translate(1546.4,173.6) rotate(45)">
<rect x="-11.3" y="-11" width="22.6" height="22" rx="2" fill="#fff" stroke="#2a2a2a" stroke-width="1.6"/>
<rect x="-9.3" y="-9" width="18.6" height="18" rx="2.5" fill="none" stroke="#8a8a8a" stroke-width="1.2"/>
<line x1="-9.5" y1="-6.5" x2="9.5" y2="-6.5" stroke="#999" stroke-width="1.3"/>
<rect x="-12" y="6" width="3" height="4" fill="#222"/>
<rect x="9" y="6" width="3" height="4" fill="#222"/>
</g>
<g transform="translate(1600.8,173.6) rotate(135)">
<rect x="-11.3" y="-11" width="22.6" height="22" rx="2" fill="#fff" stroke="#2a2a2a" stroke-width="1.6"/>
<rect x="-9.3" y="-9" width="18.6" height="18" rx="2.5" fill="none" stroke="#8a8a8a" stroke-width="1.2"/>
<line x1="-9.5" y1="-6.5" x2="9.5" y2="-6.5" stroke="#999" stroke-width="1.3"/>
<rect x="-12" y="6" width="3" height="4" fill="#222"/>
<rect x="9" y="6" width="3" height="4" fill="#222"/>
</g>
<g transform="translate(1546.4,228.0) rotate(-45)">
<rect x="-11.3" y="-11" width="22.6" height="22" rx="2" fill="#fff" stroke="#2a2a2a" stroke-width="1.6"/>
<rect x="-9.3" y="-9" width="18.6" height="18" rx="2.5" fill="none" stroke="#8a8a8a" stroke-width="1.2"/>
<line x1="-9.5" y1="-6.5" x2="9.5" y2="-6.5" stroke="#999" stroke-width="1.3"/>
<rect x="-12" y="6" width="3" height="4" fill="#222"/>
<rect x="9" y="6" width="3" height="4" fill="#222"/>
</g>
<g transform="translate(1600.8,228.0) rotate(-135)">
<rect x="-11.3" y="-11" width="22.6" height="22" rx="2" fill="#fff" stroke="#2a2a2a" stroke-width="1.6"/>
<rect x="-9.3" y="-9" width="18.6" height="18" rx="2.5" fill="none" stroke="#8a8a8a" stroke-width="1.2"/>
<line x1="-9.5" y1="-6.5" x2="9.5" y2="-6.5" stroke="#999" stroke-width="1.3"/>
<rect x="-12" y="6" width="3" height="4" fill="#222"/>
<rect x="9" y="6" width="3" height="4" fill="#222"/>
</g>
<line x1="1634.8" y1="52.6" x2="1634.8" y2="248.0" stroke="#8a8a8a" stroke-width="2.6"/>
<rect x="1635.5" y="74.3" width="10.0" height="60.2" fill="#fff"/>
<line x1="1637.5" y1="74.3" x2="1637.5" y2="134.5" stroke="#111" stroke-width="3.2"/>
<line x1="1641.0" y1="74.3" x2="1641.0" y2="134.5" stroke="#8a8a8a" stroke-width="1.5"/>
<line x1="1635.0" y1="74.3" x2="1646.0" y2="74.3" stroke="#111" stroke-width="1.2"/>
<line x1="1635.0" y1="134.5" x2="1646.0" y2="134.5" stroke="#111" stroke-width="1.2"/>
<rect x="1635.5" y="184.3" width="10.0" height="60.7" fill="#fff"/>
<line x1="1637.5" y1="184.3" x2="1637.5" y2="245.0" stroke="#111" stroke-width="3.2"/>
<line x1="1641.0" y1="184.3" x2="1641.0" y2="245.0" stroke="#8a8a8a" stroke-width="1.5"/>
<line x1="1635.0" y1="184.3" x2="1646.0" y2="184.3" stroke="#111" stroke-width="1.2"/>
<line x1="1635.0" y1="245.0" x2="1646.0" y2="245.0" stroke="#111" stroke-width="1.2"/>
<rect x="1635.5" y="321.0" width="10.0" height="59.0" fill="#fff"/>
<line x1="1637.5" y1="321.0" x2="1637.5" y2="380.0" stroke="#111" stroke-width="3.2"/>
<line x1="1641.0" y1="321.0" x2="1641.0" y2="380.0" stroke="#8a8a8a" stroke-width="1.5"/>
<line x1="1635.0" y1="321.0" x2="1646.0" y2="321.0" stroke="#111" stroke-width="1.2"/>
<line x1="1635.0" y1="380.0" x2="1646.0" y2="380.0" stroke="#111" stroke-width="1.2"/>
<path d="M1634.7,248 H1613 V294.5 H1634.7" stroke="#111" stroke-width="1.6" fill="none" />
<line x1="1620.2" y1="294.5" x2="1620.2" y2="409.0" stroke="#8a8a8a" stroke-width="2.4"/>
<line x1="1634.7" y1="294.5" x2="1634.7" y2="409.0" stroke="#8a8a8a" stroke-width="2.4"/>
<path d="M1458.8,322.3 V260.5 H1613" stroke="#111" stroke-width="1.8" fill="none" />
<rect x="1462.0" y="264.2" width="151.0" height="3.6" fill="#8a8a8a"/>
<line x1="1462.0" y1="266.0" x2="1462.0" y2="322.3" stroke="#8a8a8a" stroke-width="2.6"/>
<path d="M1483.3,225.5 A31.7,31.8 0 0 1 1515,257.4" stroke="#8a8a8a" stroke-width="1.4" fill="none" />
<rect x="1477.0" y="255.5" width="38.0" height="3.0" fill="#111"/>
<rect x="1477.0" y="255.5" width="8.0" height="3.0" fill="#8a8a8a"/>
<path d="M1458.5,322.3 H1494.6" stroke="#111" stroke-width="1.8" fill="none" />
<path d="M1494.6,322.3 A31,32 0 0 1 1463.7,354.2" stroke="#8a8a8a" stroke-width="1.4" fill="none" />
<line x1="1458.8" y1="354.2" x2="1458.8" y2="521.6" stroke="#222" stroke-width="1.8"/>
<line x1="1462.0" y1="354.2" x2="1462.0" y2="521.6" stroke="#8a8a8a" stroke-width="2.6"/>
<line x1="1459.0" y1="410.0" x2="1634.7" y2="410.0" stroke="#8a8a8a" stroke-width="2.6"/>
<line x1="1462.0" y1="415.4" x2="1646.3" y2="415.4" stroke="#111" stroke-width="2.2"/>
<rect x="1535.8" y="337.7" width="37.1" height="71.1" stroke="#111" stroke-width="1.8" fill="none" rx="0"/>
<line x1="1572.9" y1="391.3" x2="1620.2" y2="391.3" stroke="#8a8a8a" stroke-width="2.2"/>
<path d="M1576.0,361.4 H1590.7 A11,12.3 0 0 1 1590.7,386.0 H1576.0" stroke="#111" stroke-width="2.2" fill="none" />
<path d="M1576.0,364.4 H1589.7 A8.5,9.3 0 0 1 1589.7,383.0 H1576.0" stroke="#8a8a8a" stroke-width="1.4" fill="none" />
<line x1="1577.0" y1="361.4" x2="1577.0" y2="386.0" stroke="#8a8a8a" stroke-width="2.2"/>
<rect x="1509.0" y="343.0" width="22.7" height="23.6" rx="4" fill="#fff" stroke="#111" stroke-width="1.5"/>
<rect x="1510.0" y="344.0" width="20.7" height="21.6" rx="3.5" fill="none" stroke="#8a8a8a" stroke-width="1.2"/>
<line x1="1513.0" y1="345.0" x2="1513.0" y2="364.6" stroke="#8a8a8a" stroke-width="1.2"/>
<rect x="1509.0" y="382.0" width="22.7" height="22.7" rx="4" fill="#fff" stroke="#111" stroke-width="1.5"/>
<rect x="1510.0" y="383.0" width="20.7" height="20.7" rx="3.5" fill="none" stroke="#8a8a8a" stroke-width="1.2"/>
<line x1="1513.0" y1="384.0" x2="1513.0" y2="402.7" stroke="#8a8a8a" stroke-width="1.2"/>
<path d="M1291.7,260.3 H1306 V266.5" stroke="#111" stroke-width="1.6" fill="none" />
<line x1="1292.0" y1="260.3" x2="1292.0" y2="380.0" stroke="#8a8a8a" stroke-width="2.6"/>
<line x1="1296.5" y1="266.0" x2="1296.5" y2="549.5" stroke="#4a4a4a" stroke-width="2.4"/>
<line x1="1290.2" y1="376.0" x2="1290.2" y2="549.5" stroke="#8a8a8a" stroke-width="2.4"/>
<line x1="1304.8" y1="229.7" x2="1304.8" y2="266.0" stroke="#8a8a8a" stroke-width="3.4"/>
<path d="M1306,229.7 A31.7,31 0 0 1 1337.7,260.6" stroke="#8a8a8a" stroke-width="1.4" fill="none" />
<path d="M1404,229.7 A31,31 0 0 0 1373,260.6" stroke="#8a8a8a" stroke-width="1.4" fill="none" />
<line x1="1405.8" y1="229.7" x2="1405.8" y2="260.6" stroke="#111" stroke-width="3.2"/>
<rect x="1404.5" y="260.6" width="4.5" height="94.2" stroke="#111" stroke-width="1.4" fill="none" rx="0"/>
<line x1="1406.7" y1="262.0" x2="1406.7" y2="354.0" stroke="#ddd" stroke-width="1.6"/>
<path d="M1337.7,260.6 H1342 V266" stroke="#111" stroke-width="1.5" fill="none" />
<rect x="1342.0" y="260.6" width="31.0" height="43.4" stroke="#111" stroke-width="1.5" fill="none" rx="0"/>
<line x1="1346.0" y1="262.0" x2="1346.0" y2="304.0" stroke="#111" stroke-width="1.8"/>
<line x1="1369.6" y1="262.0" x2="1369.6" y2="304.0" stroke="#8a8a8a" stroke-width="2.4"/>
<path d="M1346,281.4 H1369.5" stroke="#8a8a8a" stroke-width="2" fill="none" />
<line x1="1296.3" y1="304.9" x2="1404.0" y2="304.9" stroke="#111" stroke-width="1.7"/>
<line x1="1296.3" y1="310.9" x2="1404.0" y2="310.9" stroke="#111" stroke-width="1.7"/>
<line x1="1296.3" y1="333.8" x2="1404.0" y2="333.8" stroke="#111" stroke-width="1.7"/>
<line x1="1296.3" y1="321.9" x2="1342.0" y2="321.9" stroke="#111" stroke-width="1.7"/>
<line x1="1372.8" y1="321.9" x2="1404.0" y2="321.9" stroke="#111" stroke-width="1.7"/>
<rect x="1297.0" y="306.0" width="107.0" height="3.8" fill="#dedede"/>
<line x1="1342.0" y1="304.9" x2="1342.0" y2="333.8" stroke="#111" stroke-width="1.6"/>
<line x1="1372.8" y1="304.9" x2="1372.8" y2="333.8" stroke="#111" stroke-width="1.6"/>
<rect x="1311.0" y="311.0" width="21.5" height="21.5" stroke="#8a8a8a" stroke-width="1.8" fill="none" rx="0"/>
<rect x="1310.5" y="310.5" width="22.0" height="2.8" fill="#111"/>
<rect x="1318.3" y="312.7" width="5.7" height="5.7" fill="#111"/>
<rect x="1328.2" y="322.0" width="4.3" height="9.5" fill="#111"/>
<line x1="1312.0" y1="319.8" x2="1330.0" y2="319.8" stroke="#999" stroke-width="1.4"/>
<line x1="1224.5" y1="351.5" x2="1224.5" y2="376.2" stroke="#111" stroke-width="2.2"/>
<line x1="1283.2" y1="339.1" x2="1283.2" y2="376.2" stroke="#111" stroke-width="2.2"/>
<path d="M1224.5,351.5 A23.2,23.2 0 0 1 1247.7,374.7" stroke="#8a8a8a" stroke-width="1.4" fill="none" />
<path d="M1283.2,339.1 A35.5,35.5 0 0 0 1247.7,374.6" stroke="#8a8a8a" stroke-width="1.4" fill="none" />
<path d="M1283.2,376 V380.5 H1291.7" stroke="#8a8a8a" stroke-width="2" fill="none" />
<circle cx="1344.6" cy="471.5" r="24.3" fill="#fff" stroke="#8a8a8a" stroke-width="1.6"/>
<circle cx="1344.6" cy="471.5" r="23.5" fill="none" stroke="#444" stroke-width="0.7"/>
<g transform="translate(1317.4,444.3) rotate(45)">
<rect x="-11.3" y="-11" width="22.6" height="22" rx="2" fill="#fff" stroke="#2a2a2a" stroke-width="1.6"/>
<rect x="-9.3" y="-9" width="18.6" height="18" rx="2.5" fill="none" stroke="#8a8a8a" stroke-width="1.2"/>
<line x1="-9.5" y1="-6.5" x2="9.5" y2="-6.5" stroke="#999" stroke-width="1.3"/>
<rect x="-12" y="6" width="3" height="4" fill="#222"/>
<rect x="9" y="6" width="3" height="4" fill="#222"/>
</g>
<g transform="translate(1371.8,444.3) rotate(135)">
<rect x="-11.3" y="-11" width="22.6" height="22" rx="2" fill="#fff" stroke="#2a2a2a" stroke-width="1.6"/>
<rect x="-9.3" y="-9" width="18.6" height="18" rx="2.5" fill="none" stroke="#8a8a8a" stroke-width="1.2"/>
<line x1="-9.5" y1="-6.5" x2="9.5" y2="-6.5" stroke="#999" stroke-width="1.3"/>
<rect x="-12" y="6" width="3" height="4" fill="#222"/>
<rect x="9" y="6" width="3" height="4" fill="#222"/>
</g>
<g transform="translate(1317.4,498.7) rotate(-45)">
<rect x="-11.3" y="-11" width="22.6" height="22" rx="2" fill="#fff" stroke="#2a2a2a" stroke-width="1.6"/>
<rect x="-9.3" y="-9" width="18.6" height="18" rx="2.5" fill="none" stroke="#8a8a8a" stroke-width="1.2"/>
<line x1="-9.5" y1="-6.5" x2="9.5" y2="-6.5" stroke="#999" stroke-width="1.3"/>
<rect x="-12" y="6" width="3" height="4" fill="#222"/>
<rect x="9" y="6" width="3" height="4" fill="#222"/>
</g>
<g transform="translate(1371.8,498.7) rotate(-135)">
<rect x="-11.3" y="-11" width="22.6" height="22" rx="2" fill="#fff" stroke="#2a2a2a" stroke-width="1.6"/>
<rect x="-9.3" y="-9" width="18.6" height="18" rx="2.5" fill="none" stroke="#8a8a8a" stroke-width="1.2"/>
<line x1="-9.5" y1="-6.5" x2="9.5" y2="-6.5" stroke="#999" stroke-width="1.3"/>
<rect x="-12" y="6" width="3" height="4" fill="#222"/>
<rect x="9" y="6" width="3" height="4" fill="#222"/>
</g>
<rect x="1343" y="546" width="2" height="3.5" fill="#111"/>
<rect x="1371" y="546" width="2" height="3.5" fill="#8a8a8a"/>
<path d="M1425,777.5 V552.4 H1669.3 V1344.7 H1560.8 V1331.4 H1383.8 V1036" stroke="#4a4a4a" stroke-width="1.5" fill="none" />
<path d="M1431,777 V559.8 H1652.2 V594.6" stroke="#4a4a4a" stroke-width="1.5" fill="none" />
<line x1="1429.0" y1="560.5" x2="1652.0" y2="560.5" stroke="#aaa" stroke-width="2.4"/>
<line x1="1428.0" y1="560.0" x2="1428.0" y2="777.0" stroke="#aaa" stroke-width="2"/>
<path d="M1636,559.8 V699.3 H1616.8 V746.5 H1652.2" stroke="#4a4a4a" stroke-width="1.5" fill="none" />
<path d="M1636,746.5 V995.3 H1616.8 V1044 H1636 V1311.3 H1652.2" stroke="#4a4a4a" stroke-width="1.5" fill="none" />
<path d="M1652.2,674.2 V699.3" stroke="#4a4a4a" stroke-width="1.5" fill="none" />
<path d="M1652.2,830.6 V911" stroke="#4a4a4a" stroke-width="1.5" fill="none" />
<path d="M1652.2,989.4 V1079" stroke="#4a4a4a" stroke-width="1.5" fill="none" />
<path d="M1652.2,1158.8 V1217.8" stroke="#4a4a4a" stroke-width="1.5" fill="none" />
<path d="M1652.2,1296 V1311.3" stroke="#4a4a4a" stroke-width="1.5" fill="none" />
<rect x="1652.2" y="594.6" width="17.1" height="79.6" stroke="#4a4a4a" stroke-width="1.2" fill="none" rx="0"/>
<line x1="1657.5" y1="595.6" x2="1657.5" y2="673.2" stroke="#6a6a6a" stroke-width="3.6"/>
<line x1="1654.5" y1="595.6" x2="1654.5" y2="673.2" stroke="#999" stroke-width="1.2"/>
<line x1="1652.2" y1="592.6" x2="1652.2" y2="676.2" stroke="#4a4a4a" stroke-width="1.6"/>
<rect x="1652.2" y="752.4" width="17.1" height="78.2" stroke="#4a4a4a" stroke-width="1.2" fill="none" rx="0"/>
<line x1="1657.5" y1="753.4" x2="1657.5" y2="829.6" stroke="#6a6a6a" stroke-width="3.6"/>
<line x1="1654.5" y1="753.4" x2="1654.5" y2="829.6" stroke="#999" stroke-width="1.2"/>
<line x1="1652.2" y1="750.4" x2="1652.2" y2="832.6" stroke="#4a4a4a" stroke-width="1.6"/>
<rect x="1652.2" y="911.0" width="17.1" height="78.4" stroke="#4a4a4a" stroke-width="1.2" fill="none" rx="0"/>
<line x1="1657.5" y1="912.0" x2="1657.5" y2="988.4" stroke="#6a6a6a" stroke-width="3.6"/>
<line x1="1654.5" y1="912.0" x2="1654.5" y2="988.4" stroke="#999" stroke-width="1.2"/>
<line x1="1652.2" y1="909.0" x2="1652.2" y2="991.4" stroke="#4a4a4a" stroke-width="1.6"/>
<rect x="1652.2" y="1079.0" width="17.1" height="79.8" stroke="#4a4a4a" stroke-width="1.2" fill="none" rx="0"/>
<line x1="1657.5" y1="1080.0" x2="1657.5" y2="1157.8" stroke="#6a6a6a" stroke-width="3.6"/>
<line x1="1654.5" y1="1080.0" x2="1654.5" y2="1157.8" stroke="#999" stroke-width="1.2"/>
<line x1="1652.2" y1="1077.0" x2="1652.2" y2="1160.8" stroke="#4a4a4a" stroke-width="1.6"/>
<rect x="1652.2" y="1217.8" width="17.1" height="78.2" stroke="#4a4a4a" stroke-width="1.2" fill="none" rx="0"/>
<line x1="1657.5" y1="1218.8" x2="1657.5" y2="1295.0" stroke="#6a6a6a" stroke-width="3.6"/>
<line x1="1654.5" y1="1218.8" x2="1654.5" y2="1295.0" stroke="#999" stroke-width="1.2"/>
<line x1="1652.2" y1="1215.8" x2="1652.2" y2="1298.0" stroke="#4a4a4a" stroke-width="1.6"/>
<path d="M1392,1322.5 H1571 V1338 H1631.6 V1311.3 H1652.2" stroke="#4a4a4a" stroke-width="1.5" fill="none" />
<path d="M1392,1322.5 V1036 H1383.8" stroke="#4a4a4a" stroke-width="1.5" fill="none" />
<path d="M1425,777.5 A51.7,45.7 0 0 1 1476.7,823.2" stroke="#555" stroke-width="1.2" fill="none" />
<line x1="1431.0" y1="822.0" x2="1476.7" y2="822.0" stroke="#777" stroke-width="3"/>
<line x1="1428.0" y1="804.0" x2="1466.4" y2="804.0" stroke="#888" stroke-width="2"/>
<path d="M1425,818 V837.5 H1454.6 V934.9" stroke="#4a4a4a" stroke-width="1.5" fill="none" />
<path d="M1431,822 V832 H1652.2" stroke="#4a4a4a" stroke-width="1.5" fill="none" />
<line x1="1454.6" y1="835.0" x2="1652.2" y2="835.0" stroke="#aaa" stroke-width="2.2"/>
<line x1="1460.5" y1="838.0" x2="1460.5" y2="934.9" stroke="#888" stroke-width="1.4"/>
<path d="M1460.5,934.9 A47.2,47.1 0 0 1 1507.7,982" stroke="#555" stroke-width="1.2" fill="none" />
<path d="M1454.6,982 H1507.7" stroke="#4a4a4a" stroke-width="1.8" fill="none" />
<path d="M1454.6,982 V1004.2 H1460.5" stroke="#4a4a4a" stroke-width="1.5" fill="none" />
<path d="M1460.5,989.4 H1652.2" stroke="#4a4a4a" stroke-width="1.5" fill="none" />
<line x1="1460.5" y1="993.0" x2="1652.2" y2="993.0" stroke="#aaa" stroke-width="2.2"/>
<path d="M1460.5,996.8 H1616.8" stroke="#4a4a4a" stroke-width="1.5" fill="none" />
<path d="M1460.5,1002.7 H1507.7" stroke="#4a4a4a" stroke-width="2.2" fill="none" />
<path d="M1507.7,1002.7 A47.2,47.3 0 0 1 1460.5,1050" stroke="#555" stroke-width="1.2" fill="none" />
<path d="M1454.6,1050 V1161.8 H1445.7" stroke="#4a4a4a" stroke-width="1.5" fill="none" />
<path d="M1460.5,1050 V1161.8 H1636" stroke="#4a4a4a" stroke-width="1.5" fill="none" />
<line x1="1446.0" y1="1164.3" x2="1652.0" y2="1164.3" stroke="#aaa" stroke-width="2.2"/>
<path d="M1445.7,1166.8 H1652.2" stroke="#4a4a4a" stroke-width="1.5" fill="none" />
<path d="M1391,1161.8 H1401.5 V1213.4" stroke="#4a4a4a" stroke-width="1.6" fill="none" />
<line x1="1399.5" y1="1166.0" x2="1399.5" y2="1213.0" stroke="#888" stroke-width="2.4"/>
<path d="M1401.5,1213.4 A44.2,45.7 0 0 0 1445.7,1167.7" stroke="#555" stroke-width="1.2" fill="none" />
<path d="M1211.2,805 V737.6 H1277.6 V703.7 H1314.5 V743.5 H1217.1 V805" stroke="#4a4a4a" stroke-width="1.5" fill="none" />
<path d="M1277.6,740.6 H1314.5" stroke="#4a4a4a" stroke-width="1.2" fill="none" />
<path d="M1314.5,717 H1326.3 M1314.5,724.4 H1326.3" stroke="#777" stroke-width="1.6" fill="none" />
<line x1="1280.5" y1="704.5" x2="1280.5" y2="740.0" stroke="#aaa" stroke-width="2"/>
<path d="M1217,805 A47,47 0 0 1 1248,817" stroke="#555" stroke-width="1.2" fill="none" />
<path d="M1254,827 A47,47 0 0 1 1264.3,850.8" stroke="#555" stroke-width="1.2" fill="none" />
<line x1="1217.1" y1="850.8" x2="1264.3" y2="850.8" stroke="#888" stroke-width="2.4"/>
<path d="M1211.2,852.3 V934.9 H1229 V1050 H1273.2 V1030.7 H1392" stroke="#4a4a4a" stroke-width="1.5" fill="none" />
<path d="M1217.1,852.3 V930.4 H1236.3 V1044 H1265.8 V1007 H1348.4 V1030.7" stroke="#4a4a4a" stroke-width="1.5" fill="none" />
<path d="M1283.5,1007 V1030.7 M1310,1007 V1030.7 M1310,1013 H1346 V1030.7" stroke="#4a4a4a" stroke-width="1.5" fill="none" />
<line x1="1284.5" y1="1031.5" x2="1310.0" y2="1031.5" stroke="#999" stroke-width="2"/>
<path d="M1273.2,1036 H1383.8 V1322.5" stroke="#4a4a4a" stroke-width="1.5" fill="none" />
<line x1="1386.5" y1="1036.0" x2="1386.5" y2="1330.0" stroke="#aaa" stroke-width="1.6"/>
<line x1="1229.0" y1="952.5" x2="1236.3" y2="952.5" stroke="#4a4a4a" stroke-width="1"/>
<line x1="1229.0" y1="999.8" x2="1236.3" y2="999.8" stroke="#4a4a4a" stroke-width="1"/>
<rect x="1247.5" y="783" width="1.2" height="6" fill="#999"/>
<rect x="196.8" y="1348.6" width="8.9" height="11.0" fill="#c8102e"/>
<rect x="1157.0" y="1349.0" width="9.0" height="10.0" fill="#c8102e"/>
<text x="232" y="1373.5" class="t" font-size="26" font-weight="bold" fill="#1f2a44">Senior Associate</text>
<text x="732" y="1373.5" class="t" font-size="26" font-weight="bold" fill="#1f2a44">Director</text>
</svg>
</body></html>
